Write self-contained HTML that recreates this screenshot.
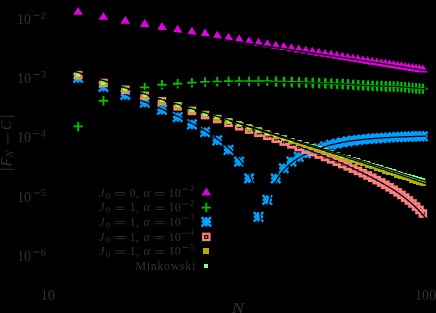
<!DOCTYPE html>
<html><head><meta charset="utf-8"><title>plot</title>
<style>
html,body{margin:0;padding:0;background:#000;}
body{width:436px;height:313px;overflow:hidden;}
svg{display:block;font-family:"Liberation Serif",serif;transform:translateZ(0);will-change:transform;}
svg text{fill:#363131;}
</style></head><body>
<svg width="436" height="313" viewBox="0 0 436 313">
<rect width="436" height="313" fill="#000"/>
<path d="M78.13 6.91L73.23 14.85L83.03 14.85Z" fill="#e000e0"/>
<path d="M103.44 11.91L98.54 19.85L108.34 19.85Z" fill="#e000e0"/>
<path d="M125.36 15.91L120.46 23.85L130.26 23.85Z" fill="#e000e0"/>
<path d="M144.69 19.01L139.79 26.95L149.59 26.95Z" fill="#e000e0"/>
<path d="M161.99 22.01L157.09 29.95L166.89 29.95Z" fill="#e000e0"/>
<path d="M177.64 24.81L172.74 32.75L182.54 32.75Z" fill="#e000e0"/>
<path d="M191.92 26.81L187.02 34.75L196.82 34.75Z" fill="#e000e0"/>
<path d="M205.06 28.61L200.16 36.55L209.96 36.55Z" fill="#e000e0"/>
<path d="M217.23 30.81L212.33 38.75L222.13 38.75Z" fill="#e000e0"/>
<path d="M228.55 32.81L223.65 40.75L233.45 40.75Z" fill="#e000e0"/>
<path d="M239.15 34.41L234.25 42.35L244.05 42.35Z" fill="#e000e0"/>
<path d="M249.10 36.41L244.20 44.35L254.00 44.35Z" fill="#e000e0"/>
<path d="M258.48 37.81L253.58 45.75L263.38 45.75Z" fill="#e000e0"/>
<path d="M267.36 39.31L262.46 47.25L272.26 47.25Z" fill="#e000e0"/>
<path d="M275.78 40.71L270.88 48.65L280.68 48.65Z" fill="#e000e0"/>
<path d="M283.79 42.04L278.89 49.98L288.69 49.98Z" fill="#e000e0"/>
<path d="M291.43 43.31L286.53 51.24L296.33 51.24Z" fill="#e000e0"/>
<path d="M298.72 44.52L293.82 52.45L303.62 52.45Z" fill="#e000e0"/>
<path d="M305.71 45.68L300.81 53.61L310.61 53.61Z" fill="#e000e0"/>
<path d="M312.41 46.79L307.51 54.73L317.31 54.73Z" fill="#e000e0"/>
<path d="M318.85 47.86L313.95 55.79L323.75 55.79Z" fill="#e000e0"/>
<path d="M325.04 48.88L320.14 56.82L329.94 56.82Z" fill="#e000e0"/>
<path d="M331.02 49.87L326.12 57.81L335.92 57.81Z" fill="#e000e0"/>
<path d="M336.78 50.83L331.88 58.77L341.68 58.77Z" fill="#e000e0"/>
<path d="M342.34 51.75L337.44 59.69L347.24 59.69Z" fill="#e000e0"/>
<path d="M347.72 52.65L342.82 60.58L352.62 60.58Z" fill="#e000e0"/>
<path d="M352.94 53.51L348.04 61.45L357.84 61.45Z" fill="#e000e0"/>
<path d="M357.99 54.35L353.09 62.29L362.89 62.29Z" fill="#e000e0"/>
<path d="M362.89 55.16L357.99 63.10L367.79 63.10Z" fill="#e000e0"/>
<path d="M367.65 55.95L362.75 63.89L372.55 63.89Z" fill="#e000e0"/>
<path d="M372.27 56.72L367.37 64.66L377.17 64.66Z" fill="#e000e0"/>
<path d="M376.77 57.47L371.87 65.40L381.67 65.40Z" fill="#e000e0"/>
<path d="M381.15 58.18L376.25 66.12L386.05 66.12Z" fill="#e000e0"/>
<path d="M385.41 58.84L380.51 66.77L390.31 66.77Z" fill="#e000e0"/>
<path d="M389.57 59.48L384.67 67.41L394.47 67.41Z" fill="#e000e0"/>
<path d="M393.62 60.10L388.72 68.04L398.52 68.04Z" fill="#e000e0"/>
<path d="M397.58 60.71L392.68 68.65L402.48 68.65Z" fill="#e000e0"/>
<path d="M401.44 61.31L396.54 69.24L406.34 69.24Z" fill="#e000e0"/>
<path d="M405.21 61.89L400.31 69.83L410.11 69.83Z" fill="#e000e0"/>
<path d="M408.90 62.46L404.00 70.40L413.80 70.40Z" fill="#e000e0"/>
<path d="M412.51 63.01L407.61 70.95L417.41 70.95Z" fill="#e000e0"/>
<path d="M416.04 63.56L411.14 71.50L420.94 71.50Z" fill="#e000e0"/>
<path d="M419.50 64.09L414.60 72.03L424.40 72.03Z" fill="#e000e0"/>
<path d="M422.88 64.61L417.98 72.55L427.78 72.55Z" fill="#e000e0"/>
<path d="M56.21 15.60L57.03 15.60L57.86 15.60L58.68 15.60L59.51 15.60L60.33 15.65L61.15 15.77L61.98 15.90L62.80 16.02L63.63 16.14L64.45 16.27L65.27 16.39L66.10 16.51L66.92 16.64L67.75 16.76L68.57 16.88L69.39 17.01L70.22 17.13L71.04 17.25L71.87 17.38L72.69 17.50L73.51 17.62L74.34 17.75L75.16 17.87L75.99 17.99L76.81 18.12L77.63 18.24L78.46 18.36L79.28 18.49L80.11 18.61L80.93 18.73L81.75 18.86L82.58 18.98L83.40 19.10L84.23 19.23L85.05 19.35L85.87 19.47L86.70 19.60L87.52 19.72L88.35 19.84L89.17 19.97L89.99 20.09L90.82 20.21L91.64 20.34L92.47 20.46L93.29 20.58L94.12 20.71L94.94 20.83L95.76 20.95L96.59 21.08L97.41 21.20L98.24 21.32L99.06 21.45L99.88 21.57L100.71 21.69L101.53 21.82L102.36 21.94L103.18 22.06L104.00 22.19L104.83 22.31L105.65 22.43L106.48 22.56L107.30 22.68L108.12 22.80L108.95 22.93L109.77 23.05L110.60 23.17L111.42 23.30L112.24 23.42L113.07 23.54L113.89 23.67L114.72 23.79L115.54 23.91L116.36 24.04L117.19 24.16L118.01 24.28L118.84 24.41L119.66 24.53L120.48 24.65L121.31 24.78L122.13 24.90L122.96 25.02L123.78 25.15L124.60 25.27L125.43 25.39L126.25 25.52L127.08 25.64L127.90 25.76L128.72 25.89L129.55 26.01L130.37 26.13L131.20 26.26L132.02 26.38L132.84 26.50L133.67 26.63L134.49 26.75L135.32 26.87L136.14 27.00L136.96 27.12L137.79 27.24L138.61 27.37L139.44 27.49L140.26 27.61L141.08 27.74L141.91 27.86L142.73 27.98L143.56 28.11L144.38 28.23L145.21 28.35L146.03 28.48L146.85 28.60L147.68 28.72L148.50 28.85L149.33 28.97L150.15 29.09L150.97 29.22L151.80 29.34L152.62 29.46L153.45 29.59L154.27 29.71L155.09 29.83L155.92 29.95L156.74 30.08L157.57 30.20L158.39 30.32L159.21 30.45L160.04 30.57L160.86 30.69L161.69 30.82L162.51 30.94L163.33 31.06L164.16 31.19L164.98 31.31L165.81 31.43L166.63 31.56L167.45 31.68L168.28 31.80L169.10 31.93L169.93 32.05L170.75 32.17L171.57 32.30L172.40 32.42L173.22 32.54L174.05 32.67L174.87 32.79L175.69 32.91L176.52 33.04L177.34 33.16L178.17 33.28L178.99 33.39L179.81 33.50L180.64 33.61L181.46 33.72L182.29 33.83L183.11 33.94L183.93 34.06L184.76 34.17L185.58 34.28L186.41 34.39L187.23 34.50L188.05 34.61L188.88 34.72L189.70 34.83L190.53 34.95L191.35 35.06L192.17 35.17L193.00 35.28L193.82 35.39L194.65 35.50L195.47 35.61L196.30 35.72L197.12 35.84L197.94 35.95L198.77 36.06L199.59 36.17L200.42 36.28L201.24 36.39L202.06 36.50L202.89 36.61L203.71 36.73L204.54 36.84L205.36 36.95L206.18 37.08L207.01 37.20L207.83 37.32L208.66 37.44L209.48 37.57L210.30 37.69L211.13 37.81L211.95 37.94L212.78 38.06L213.60 38.18L214.42 38.30L215.25 38.43L216.07 38.55L216.90 38.67L217.72 38.79L218.54 38.92L219.37 39.04L220.19 39.16L221.02 39.29L221.84 39.41L222.66 39.53L223.49 39.65L224.31 39.78L225.14 39.90L225.96 40.02L226.78 40.14L227.61 40.27L228.43 40.39L229.26 40.51L230.08 40.63L230.90 40.75L231.73 40.87L232.55 40.99L233.38 41.11L234.20 41.23L235.02 41.35L235.85 41.48L236.67 41.60L237.50 41.72L238.32 41.84L239.14 41.96L239.97 42.08L240.79 42.20L241.62 42.32L242.44 42.44L243.26 42.56L244.09 42.68L244.91 42.80L245.74 42.92L246.56 43.04L247.39 43.16L248.21 43.28L249.03 43.41L249.86 43.53L250.68 43.65L251.51 43.78L252.33 43.90L253.15 44.03L253.98 44.15L254.80 44.28L255.63 44.40L256.45 44.53L257.27 44.65L258.10 44.78L258.92 44.90L259.75 45.02L260.57 45.15L261.39 45.27L262.22 45.40L263.04 45.52L263.87 45.65L264.69 45.77L265.51 45.90L266.34 46.02L267.16 46.15L267.99 46.27L268.81 46.39L269.63 46.52L270.46 46.64L271.28 46.77L272.11 46.89L272.93 47.02L273.75 47.14L274.58 47.27L275.40 47.39L276.23 47.52L277.05 47.64L277.87 47.76L278.70 47.89L279.52 48.01L280.35 48.14L281.17 48.26L281.99 48.39L282.82 48.51L283.64 48.64L284.47 48.76L285.29 48.89L286.11 49.01L286.94 49.13L287.76 49.26L288.59 49.38L289.41 49.51L290.23 49.63L291.06 49.76L291.88 49.88L292.71 50.01L293.53 50.13L294.35 50.26L295.18 50.38L296.00 50.50L296.83 50.63L297.65 50.75L298.48 50.88L299.30 51.00L300.12 51.13L300.95 51.25L301.77 51.38L302.60 51.50L303.42 51.63L304.24 51.75L305.07 51.87L305.89 52.00L306.72 52.12L307.54 52.25L308.36 52.37L309.19 52.50L310.01 52.62L310.84 52.75L311.66 52.87L312.48 53.00L313.31 53.12L314.13 53.24L314.96 53.37L315.78 53.49L316.60 53.62L317.43 53.74L318.25 53.87L319.08 53.99L319.90 54.12L320.72 54.24L321.55 54.37L322.37 54.49L323.20 54.61L324.02 54.74L324.84 54.86L325.67 54.99L326.49 55.11L327.32 55.24L328.14 55.36L328.96 55.49L329.79 55.61L330.61 55.74L331.44 55.86L332.26 55.98L333.08 56.11L333.91 56.23L334.73 56.36L335.56 56.48L336.38 56.61L337.20 56.73L338.03 56.86L338.85 56.98L339.68 57.11L340.50 57.23L341.32 57.35L342.15 57.48L342.97 57.60L343.80 57.73L344.62 57.85L345.44 57.98L346.27 58.10L347.09 58.23L347.92 58.35L348.74 58.48L349.57 58.60L350.39 58.72L351.21 58.85L352.04 58.97L352.86 59.10L353.69 59.22L354.51 59.35L355.33 59.47L356.16 59.60L356.98 59.72L357.81 59.85L358.63 59.97L359.45 60.09L360.28 60.22L361.10 60.34L361.93 60.47L362.75 60.59L363.57 60.72L364.40 60.84L365.22 60.97L366.05 61.09L366.87 61.22L367.69 61.34L368.52 61.46L369.34 61.59L370.17 61.71L370.99 61.84L371.81 61.96L372.64 62.09L373.46 62.21L374.29 62.34L375.11 62.46L375.93 62.59L376.76 62.71L377.58 62.83L378.41 62.96L379.23 63.08L380.05 63.21L380.88 63.34L381.70 63.48L382.53 63.61L383.35 63.74L384.17 63.88L385.00 64.01L385.82 64.14L386.65 64.28L387.47 64.41L388.29 64.54L389.12 64.68L389.94 64.81L390.77 64.94L391.59 65.08L392.41 65.21L393.24 65.34L394.06 65.48L394.89 65.61L395.71 65.75L396.53 65.88L397.36 66.01L398.18 66.15L399.01 66.28L399.83 66.41L400.66 66.55L401.48 66.68L402.30 66.81L403.13 66.95L403.95 67.08L404.78 67.21L405.60 67.35L406.42 67.48L407.25 67.61L408.07 67.75L408.90 67.88L409.72 68.01L410.54 68.15L411.37 68.28L412.19 68.42L413.02 68.55L413.84 68.68L414.66 68.82L415.49 68.95L416.31 69.08L417.14 69.22L417.96 69.35L418.78 69.48L419.61 69.62L420.43 69.75L421.26 69.88L422.08 70.02L422.90 70.15L423.73 70.28L424.55 70.42L425.38 70.55L426.20 70.68" stroke="#000" stroke-width="1.3" fill="none" stroke-linejoin="round"/>
<path d="M73.38 126.40H82.88M78.13 121.65V131.15" stroke="#00c000" stroke-width="1.9" fill="none"/>
<path d="M98.69 100.80H108.19M103.44 96.05V105.55" stroke="#00c000" stroke-width="1.9" fill="none"/>
<path d="M120.61 91.50H130.11M125.36 86.75V96.25" stroke="#00c000" stroke-width="1.9" fill="none"/>
<path d="M139.94 87.40H149.44M144.69 82.65V92.15" stroke="#00c000" stroke-width="1.9" fill="none"/>
<path d="M157.24 84.80H166.74M161.99 80.05V89.55" stroke="#00c000" stroke-width="1.9" fill="none"/>
<path d="M172.89 83.70H182.39M177.64 78.95V88.45" stroke="#00c000" stroke-width="1.9" fill="none"/>
<path d="M187.17 82.80H196.67M191.92 78.05V87.55" stroke="#00c000" stroke-width="1.9" fill="none"/>
<path d="M200.31 82.00H209.81M205.06 77.25V86.75" stroke="#00c000" stroke-width="1.9" fill="none"/>
<path d="M212.48 81.70H221.98M217.23 76.95V86.45" stroke="#00c000" stroke-width="1.9" fill="none"/>
<path d="M223.80 81.30H233.30M228.55 76.55V86.05" stroke="#00c000" stroke-width="1.9" fill="none"/>
<path d="M234.40 81.25H243.90M239.15 76.50V86.00" stroke="#00c000" stroke-width="1.9" fill="none"/>
<path d="M244.35 81.20H253.85M249.10 76.45V85.95" stroke="#00c000" stroke-width="1.9" fill="none"/>
<path d="M253.73 81.25H263.23M258.48 76.50V86.00" stroke="#00c000" stroke-width="1.9" fill="none"/>
<path d="M262.61 81.30H272.11M267.36 76.55V86.05" stroke="#00c000" stroke-width="1.9" fill="none"/>
<path d="M276.48 76.40V87.10" stroke="#00c000" stroke-width="1.6" fill="none"/>
<path d="M271.03 81.60H280.53M275.78 76.85V86.35" stroke="#00c000" stroke-width="1.9" fill="none"/>
<path d="M284.49 76.58V87.28" stroke="#00c000" stroke-width="1.6" fill="none"/>
<path d="M279.04 81.78H288.54M283.79 77.03V86.53" stroke="#00c000" stroke-width="1.9" fill="none"/>
<path d="M292.13 76.75V87.45" stroke="#00c000" stroke-width="1.6" fill="none"/>
<path d="M286.68 81.95H296.18M291.43 77.20V86.70" stroke="#00c000" stroke-width="1.9" fill="none"/>
<path d="M299.42 77.01V87.71" stroke="#00c000" stroke-width="1.6" fill="none"/>
<path d="M293.97 82.21H303.47M298.72 77.46V86.96" stroke="#00c000" stroke-width="1.9" fill="none"/>
<path d="M306.41 77.25V87.95" stroke="#00c000" stroke-width="1.6" fill="none"/>
<path d="M300.96 82.45H310.46M305.71 77.70V87.20" stroke="#00c000" stroke-width="1.9" fill="none"/>
<path d="M313.11 77.51V88.21" stroke="#00c000" stroke-width="1.6" fill="none"/>
<path d="M307.66 82.71H317.16M312.41 77.96V87.46" stroke="#00c000" stroke-width="1.9" fill="none"/>
<path d="M319.55 77.75V88.45" stroke="#00c000" stroke-width="1.6" fill="none"/>
<path d="M314.10 82.95H323.60M318.85 78.20V87.70" stroke="#00c000" stroke-width="1.9" fill="none"/>
<path d="M325.74 78.06V88.76" stroke="#00c000" stroke-width="1.6" fill="none"/>
<path d="M320.29 83.26H329.79M325.04 78.51V88.01" stroke="#00c000" stroke-width="1.9" fill="none"/>
<path d="M331.72 78.35V89.05" stroke="#00c000" stroke-width="1.6" fill="none"/>
<path d="M326.27 83.55H335.77M331.02 78.80V88.30" stroke="#00c000" stroke-width="1.9" fill="none"/>
<path d="M337.48 78.58V89.28" stroke="#00c000" stroke-width="1.6" fill="none"/>
<path d="M332.03 83.78H341.53M336.78 79.03V88.53" stroke="#00c000" stroke-width="1.9" fill="none"/>
<path d="M343.04 78.80V89.50" stroke="#00c000" stroke-width="1.6" fill="none"/>
<path d="M337.59 84.00H347.09M342.34 79.25V88.75" stroke="#00c000" stroke-width="1.9" fill="none"/>
<path d="M348.42 79.14V89.84" stroke="#00c000" stroke-width="1.6" fill="none"/>
<path d="M342.97 84.34H352.47M347.72 79.59V89.09" stroke="#00c000" stroke-width="1.9" fill="none"/>
<path d="M353.64 79.48V90.18" stroke="#00c000" stroke-width="1.6" fill="none"/>
<path d="M348.19 84.68H357.69M352.94 79.93V89.43" stroke="#00c000" stroke-width="1.9" fill="none"/>
<path d="M358.69 79.80V90.50" stroke="#00c000" stroke-width="1.6" fill="none"/>
<path d="M353.24 85.00H362.74M357.99 80.25V89.75" stroke="#00c000" stroke-width="1.9" fill="none"/>
<path d="M363.59 80.07V90.77" stroke="#00c000" stroke-width="1.6" fill="none"/>
<path d="M358.14 85.27H367.64M362.89 80.52V90.02" stroke="#00c000" stroke-width="1.9" fill="none"/>
<path d="M368.35 80.34V91.04" stroke="#00c000" stroke-width="1.6" fill="none"/>
<path d="M362.90 85.54H372.40M367.65 80.79V90.29" stroke="#00c000" stroke-width="1.9" fill="none"/>
<path d="M372.97 80.60V91.30" stroke="#00c000" stroke-width="1.6" fill="none"/>
<path d="M367.52 85.80H377.02M372.27 81.05V90.55" stroke="#00c000" stroke-width="1.9" fill="none"/>
<path d="M377.47 80.72V91.42" stroke="#00c000" stroke-width="1.6" fill="none"/>
<path d="M372.02 85.92H381.52M376.77 81.17V90.67" stroke="#00c000" stroke-width="1.9" fill="none"/>
<path d="M381.85 80.85V91.55" stroke="#00c000" stroke-width="1.6" fill="none"/>
<path d="M376.40 86.05H385.90M381.15 81.30V90.80" stroke="#00c000" stroke-width="1.9" fill="none"/>
<path d="M386.11 80.96V91.66" stroke="#00c000" stroke-width="1.6" fill="none"/>
<path d="M380.66 86.16H390.16M385.41 81.41V90.91" stroke="#00c000" stroke-width="1.9" fill="none"/>
<path d="M390.27 81.08V91.78" stroke="#00c000" stroke-width="1.6" fill="none"/>
<path d="M384.82 86.28H394.32M389.57 81.53V91.03" stroke="#00c000" stroke-width="1.9" fill="none"/>
<path d="M393.62 81.19V91.89" stroke="#00c000" stroke-width="1.6" fill="none"/>
<path d="M388.87 86.39H398.37M393.62 81.64V91.14" stroke="#00c000" stroke-width="1.9" fill="none"/>
<path d="M397.58 81.30V92.00" stroke="#00c000" stroke-width="1.6" fill="none"/>
<path d="M392.83 86.50H402.33M397.58 81.75V91.25" stroke="#00c000" stroke-width="1.9" fill="none"/>
<path d="M401.44 81.64V92.34" stroke="#00c000" stroke-width="1.6" fill="none"/>
<path d="M396.69 86.84H406.19M401.44 82.09V91.59" stroke="#00c000" stroke-width="1.9" fill="none"/>
<path d="M405.21 81.98V92.68" stroke="#00c000" stroke-width="1.6" fill="none"/>
<path d="M400.46 87.18H409.96M405.21 82.43V91.93" stroke="#00c000" stroke-width="1.9" fill="none"/>
<path d="M408.90 82.31V93.01" stroke="#00c000" stroke-width="1.6" fill="none"/>
<path d="M404.15 87.51H413.65M408.90 82.76V92.26" stroke="#00c000" stroke-width="1.9" fill="none"/>
<path d="M412.51 82.63V93.33" stroke="#00c000" stroke-width="1.6" fill="none"/>
<path d="M407.76 87.83H417.26M412.51 83.08V92.58" stroke="#00c000" stroke-width="1.9" fill="none"/>
<path d="M416.04 82.94V93.64" stroke="#00c000" stroke-width="1.6" fill="none"/>
<path d="M411.29 88.14H420.79M416.04 83.39V92.89" stroke="#00c000" stroke-width="1.9" fill="none"/>
<path d="M419.50 83.25V93.95" stroke="#00c000" stroke-width="1.6" fill="none"/>
<path d="M414.75 88.45H424.25M419.50 83.70V93.20" stroke="#00c000" stroke-width="1.9" fill="none"/>
<path d="M422.88 83.55V94.25" stroke="#00c000" stroke-width="1.6" fill="none"/>
<path d="M418.13 88.75H427.63M422.88 84.00V93.50" stroke="#00c000" stroke-width="1.9" fill="none"/>
<path d="M56.21 135.40L57.03 135.40L57.86 135.40L58.68 135.40L59.51 135.40L60.33 135.40L61.15 135.40L61.98 135.40L62.80 135.40L63.63 135.40L64.45 135.40L65.27 135.40L66.10 135.40L66.92 135.40L67.75 135.40L68.57 135.40L69.39 135.40L70.22 135.40L71.04 135.40L71.87 135.40L72.69 135.40L73.51 135.40L74.34 135.40L75.16 135.40L75.99 135.40L76.81 135.40L77.63 135.40L78.46 135.05L79.28 134.19L80.11 133.32L80.93 132.45L81.75 131.58L82.58 130.71L83.40 129.84L84.23 128.97L85.05 128.11L85.87 127.24L86.70 126.37L87.52 125.50L88.35 124.63L89.17 123.76L89.99 122.90L90.82 122.03L91.64 121.16L92.47 120.29L93.29 119.42L94.12 118.55L94.94 117.68L95.76 116.82L96.59 115.95L97.41 115.08L98.24 114.21L99.06 113.34L99.88 112.47L100.71 111.60L101.53 110.74L102.36 109.87L103.18 109.00L104.00 108.46L104.83 108.08L105.65 107.69L106.48 107.31L107.30 106.93L108.12 106.54L108.95 106.16L109.77 105.77L110.60 105.39L111.42 105.00L112.24 104.62L113.07 104.23L113.89 103.85L114.72 103.47L115.54 103.08L116.36 102.70L117.19 102.31L118.01 101.93L118.84 101.54L119.66 101.16L120.48 100.77L121.31 100.39L122.13 100.00L122.96 99.62L123.78 99.24L124.60 98.85L125.43 98.47L126.25 98.13L127.08 97.78L127.90 97.43L128.72 97.09L129.55 96.74L130.37 96.40L131.20 96.05L132.02 95.71L132.84 95.36L133.67 95.02L134.49 94.67L135.32 94.33L136.14 93.98L136.96 93.64L137.79 93.29L138.61 92.95L139.44 92.60L140.26 92.26L141.08 91.91L141.91 91.57L142.73 91.22L143.56 90.88L144.38 90.53L145.21 90.30L146.03 90.14L146.85 89.98L147.68 89.81L148.50 89.65L149.33 89.49L150.15 89.33L150.97 89.17L151.80 89.00L152.62 88.84L153.45 88.68L154.27 88.52L155.09 88.36L155.92 88.19L156.74 88.03L157.57 87.87L158.39 87.71L159.21 87.55L160.04 87.38L160.86 87.22L161.69 87.06L162.51 86.95L163.33 86.88L164.16 86.80L164.98 86.73L165.81 86.65L166.63 86.58L167.45 86.50L168.28 86.43L169.10 86.35L169.93 86.28L170.75 86.20L171.57 86.13L172.40 86.05L173.22 85.98L174.05 85.90L174.87 85.83L175.69 85.75L176.52 85.67L177.34 85.60L178.17 85.53L178.99 85.46L179.81 85.39L180.64 85.32L181.46 85.25L182.29 85.18L183.11 85.11L183.93 85.04L184.76 84.98L185.58 84.91L186.41 84.84L187.23 84.77L188.05 84.70L188.88 84.63L189.70 84.56L190.53 84.49L191.35 84.42L192.17 84.35L193.00 84.29L193.82 84.22L194.65 84.15L195.47 84.08L196.30 84.02L197.12 83.95L197.94 83.88L198.77 83.81L199.59 83.75L200.42 83.68L201.24 83.61L202.06 83.55L202.89 83.48L203.71 83.41L204.54 83.34L205.36 83.29L206.18 83.27L207.01 83.25L207.83 83.23L208.66 83.20L209.48 83.18L210.30 83.16L211.13 83.14L211.95 83.11L212.78 83.09L213.60 83.07L214.42 83.05L215.25 83.03L216.07 83.00L216.90 82.98L217.72 82.95L218.54 82.92L219.37 82.89L220.19 82.86L221.02 82.83L221.84 82.80L222.66 82.77L223.49 82.74L224.31 82.71L225.14 82.68L225.96 82.64L226.78 82.61L227.61 82.58L228.43 82.55L229.26 82.54L230.08 82.54L230.90 82.53L231.73 82.52L232.55 82.52L233.38 82.51L234.20 82.51L235.02 82.50L235.85 82.49L236.67 82.49L237.50 82.48L238.32 82.48L239.14 82.47L239.97 82.47L240.79 82.46L241.62 82.45L242.44 82.45L243.26 82.44L244.09 82.44L244.91 82.43L245.74 82.42L246.56 82.42L247.39 82.41L248.21 82.41L249.03 82.40L249.86 82.39L250.68 82.39L251.51 82.38L252.33 82.37L253.15 82.36L253.98 82.36L254.80 82.35L255.63 82.34L256.45 82.34L257.27 82.33L258.10 82.32L258.92 82.31L259.75 82.31L260.57 82.30L261.39 82.29L262.22 82.29L263.04 82.28L263.87 82.27L264.69 82.26L265.51 82.26L266.34 82.25L267.16 82.24L267.99 82.25L268.81 82.27L269.63 82.29L270.46 82.31L271.28 82.33L272.11 82.34L272.93 82.36L273.75 82.38L274.58 82.40L275.40 82.41L276.23 82.43L277.05 82.43L277.87 82.44L278.70 82.45L279.52 82.45L280.35 82.46L281.17 82.47L281.99 82.47L282.82 82.48L283.64 82.49L284.47 82.49L285.29 82.50L286.11 82.51L286.94 82.51L287.76 82.52L288.59 82.53L289.41 82.53L290.23 82.54L291.06 82.55L291.88 82.56L292.71 82.57L293.53 82.58L294.35 82.60L295.18 82.61L296.00 82.62L296.83 82.64L297.65 82.65L298.48 82.66L299.30 82.68L300.12 82.69L300.95 82.70L301.77 82.71L302.60 82.73L303.42 82.74L304.24 82.75L305.07 82.77L305.89 82.78L306.72 82.80L307.54 82.81L308.36 82.83L309.19 82.84L310.01 82.86L310.84 82.88L311.66 82.89L312.48 82.91L313.31 82.93L314.13 82.95L314.96 82.97L315.78 83.00L316.60 83.02L317.43 83.04L318.25 83.06L319.08 83.09L319.90 83.12L320.72 83.15L321.55 83.18L322.37 83.22L323.20 83.25L324.02 83.28L324.84 83.31L325.67 83.34L326.49 83.38L327.32 83.41L328.14 83.44L328.96 83.47L329.79 83.50L330.61 83.53L331.44 83.57L332.26 83.60L333.08 83.63L333.91 83.66L334.73 83.70L335.56 83.73L336.38 83.76L337.20 83.80L338.03 83.83L338.85 83.86L339.68 83.89L340.50 83.93L341.32 83.96L342.15 83.99L342.97 84.04L343.80 84.09L344.62 84.15L345.44 84.20L346.27 84.25L347.09 84.30L347.92 84.36L348.74 84.41L349.57 84.46L350.39 84.51L351.21 84.57L352.04 84.62L352.86 84.67L353.69 84.73L354.51 84.78L355.33 84.83L356.16 84.88L356.98 84.94L357.81 84.99L358.63 85.04L359.45 85.08L360.28 85.13L361.10 85.17L361.93 85.22L362.75 85.27L363.57 85.31L364.40 85.36L365.22 85.41L366.05 85.45L366.87 85.50L367.69 85.54L368.52 85.59L369.34 85.64L370.17 85.68L370.99 85.73L371.81 85.77L372.64 85.81L373.46 85.83L374.29 85.86L375.11 85.88L375.93 85.90L376.76 85.92L377.58 85.95L378.41 85.97L379.23 85.99L380.05 86.02L380.88 86.04L381.70 86.06L382.53 86.08L383.35 86.11L384.17 86.13L385.00 86.15L385.82 86.17L386.65 86.20L387.47 86.22L388.29 86.24L389.12 86.27L389.94 86.29L390.77 86.31L391.59 86.33L392.41 86.36L393.24 86.38L394.06 86.40L394.89 86.43L395.71 86.45L396.53 86.47L397.36 86.49L398.18 86.55L399.01 86.63L399.83 86.70L400.66 86.77L401.48 86.85L402.30 86.92L403.13 86.99L403.95 87.07L404.78 87.14L405.60 87.21L406.42 87.29L407.25 87.36L408.07 87.43L408.90 87.51L409.72 87.58L410.54 87.65L411.37 87.73L412.19 87.80L413.02 87.87L413.84 87.95L414.66 88.02L415.49 88.09L416.31 88.17L417.14 88.24L417.96 88.31L418.78 88.39L419.61 88.46L420.43 88.53L421.26 88.61L422.08 88.68L422.90 88.75L423.73 88.75L424.55 88.75L425.38 88.75L426.20 88.75" stroke="#000" stroke-width="1.3" fill="none" stroke-linejoin="round"/>
<path d="M73.43 77.95H82.83M78.13 73.25V82.65M73.43 73.25L82.83 82.65M73.43 82.65L82.83 73.25" stroke="#00a0ff" stroke-width="2.5" fill="none"/>
<path d="M98.74 86.86H108.14M103.44 82.16V91.56M98.74 82.16L108.14 91.56M98.74 91.56L108.14 82.16" stroke="#00a0ff" stroke-width="2.5" fill="none"/>
<path d="M120.66 94.98H130.06M125.36 90.28V99.68M120.66 90.28L130.06 99.68M120.66 99.68L130.06 90.28" stroke="#00a0ff" stroke-width="2.5" fill="none"/>
<path d="M139.99 102.59H149.39M144.69 97.89V107.29M139.99 97.89L149.39 107.29M139.99 107.29L149.39 97.89" stroke="#00a0ff" stroke-width="2.5" fill="none"/>
<path d="M157.29 109.91H166.69M161.99 105.21V114.61M157.29 105.21L166.69 114.61M157.29 114.61L166.69 105.21" stroke="#00a0ff" stroke-width="2.5" fill="none"/>
<path d="M172.94 117.13H182.34M177.64 112.43V121.83M172.94 112.43L182.34 121.83M172.94 121.83L182.34 112.43" stroke="#00a0ff" stroke-width="2.5" fill="none"/>
<path d="M187.22 124.45H196.62M191.92 119.75V129.15M187.22 119.75L196.62 129.15M187.22 129.15L196.62 119.75" stroke="#00a0ff" stroke-width="2.5" fill="none"/>
<path d="M200.36 132.09H209.76M205.06 127.39V136.79M200.36 127.39L209.76 136.79M200.36 136.79L209.76 127.39" stroke="#00a0ff" stroke-width="2.5" fill="none"/>
<path d="M212.53 140.39H221.93M217.23 135.69V145.09M212.53 135.69L221.93 145.09M212.53 145.09L221.93 135.69" stroke="#00a0ff" stroke-width="2.5" fill="none"/>
<path d="M223.85 149.87H233.25M228.55 145.17V154.57M223.85 145.17L233.25 154.57M223.85 154.57L233.25 145.17" stroke="#00a0ff" stroke-width="2.5" fill="none"/>
<path d="M234.45 161.58H243.85M239.15 156.88V166.28M234.45 156.88L243.85 166.28M234.45 166.28L243.85 156.88" stroke="#00a0ff" stroke-width="2.5" fill="none"/>
<path d="M244.40 178.40H253.80M249.10 173.70V183.10M244.40 173.70L253.80 183.10M244.40 183.10L253.80 173.70" stroke="#00a0ff" stroke-width="2.5" fill="none"/>
<path d="M253.78 216.82H263.18M258.48 212.12V221.52M253.78 212.12L263.18 221.52M253.78 221.52L263.18 212.12" stroke="#00a0ff" stroke-width="2.5" fill="none"/>
<path d="M262.66 199.87H272.06M267.36 195.17V204.57M262.66 195.17L272.06 204.57M262.66 204.57L272.06 195.17" stroke="#00a0ff" stroke-width="2.5" fill="none"/>
<path d="M271.08 178.47H280.48M275.78 173.77V183.17M271.08 173.77L280.48 183.17M271.08 183.17L280.48 173.77" stroke="#00a0ff" stroke-width="2.5" fill="none"/>
<path d="M279.09 168.26H288.49M283.79 163.56V172.96M279.09 163.56L288.49 172.96M279.09 172.96L288.49 163.56" stroke="#00a0ff" stroke-width="2.5" fill="none"/>
<path d="M286.73 161.65H296.13M291.43 156.95V166.35M286.73 156.95L296.13 166.35M286.73 166.35L296.13 156.95" stroke="#00a0ff" stroke-width="2.5" fill="none"/>
<path d="M294.02 156.93H303.42M298.72 152.23V161.63M294.02 152.23L303.42 161.63M294.02 161.63L303.42 152.23" stroke="#00a0ff" stroke-width="2.5" fill="none"/>
<path d="M301.01 153.34H310.41M305.71 148.64V158.04M301.01 148.64L310.41 158.04M301.01 158.04L310.41 148.64" stroke="#00a0ff" stroke-width="2.5" fill="none"/>
<path d="M307.71 150.54H317.11M312.41 145.84V155.24M307.71 145.84L317.11 155.24M307.71 155.24L317.11 145.84" stroke="#00a0ff" stroke-width="2.5" fill="none"/>
<path d="M314.15 148.26H323.55M318.85 143.56V152.96M314.15 143.56L323.55 152.96M314.15 152.96L323.55 143.56" stroke="#00a0ff" stroke-width="2.5" fill="none"/>
<path d="M320.34 146.36H329.74M325.04 141.66V151.06M320.34 141.66L329.74 151.06M320.34 151.06L329.74 141.66" stroke="#00a0ff" stroke-width="2.5" fill="none"/>
<path d="M326.32 144.75H335.72M331.02 140.05V149.45M326.32 140.05L335.72 149.45M326.32 149.45L335.72 140.05" stroke="#00a0ff" stroke-width="2.5" fill="none"/>
<path d="M332.08 143.47H341.48M336.78 138.77V148.17M332.08 138.77L341.48 148.17M332.08 148.17L341.48 138.77" stroke="#00a0ff" stroke-width="2.5" fill="none"/>
<path d="M337.64 142.35H347.04M342.34 137.65V147.05M337.64 137.65L347.04 147.05M337.64 147.05L347.04 137.65" stroke="#00a0ff" stroke-width="2.5" fill="none"/>
<path d="M343.02 141.39H352.42M347.72 136.69V146.09M343.02 136.69L352.42 146.09M343.02 146.09L352.42 136.69" stroke="#00a0ff" stroke-width="2.5" fill="none"/>
<path d="M348.24 140.67H357.64M352.94 135.97V145.37M348.24 135.97L357.64 145.37M348.24 145.37L357.64 135.97" stroke="#00a0ff" stroke-width="2.5" fill="none"/>
<path d="M353.29 140.04H362.69M357.99 135.34V144.74M353.29 135.34L362.69 144.74M353.29 144.74L362.69 135.34" stroke="#00a0ff" stroke-width="2.5" fill="none"/>
<path d="M358.19 139.49H367.59M362.89 134.79V144.19M358.19 134.79L367.59 144.19M358.19 144.19L367.59 134.79" stroke="#00a0ff" stroke-width="2.5" fill="none"/>
<path d="M362.95 139.04H372.35M367.65 134.34V143.74M362.95 134.34L372.35 143.74M362.95 143.74L372.35 134.34" stroke="#00a0ff" stroke-width="2.5" fill="none"/>
<path d="M367.57 138.64H376.97M372.27 133.94V143.34M367.57 133.94L376.97 143.34M367.57 143.34L376.97 133.94" stroke="#00a0ff" stroke-width="2.5" fill="none"/>
<path d="M372.07 138.30H381.47M376.77 133.60V143.00M372.07 133.60L381.47 143.00M372.07 143.00L381.47 133.60" stroke="#00a0ff" stroke-width="2.5" fill="none"/>
<path d="M376.45 138.00H385.85M381.15 133.30V142.70M376.45 133.30L385.85 142.70M376.45 142.70L385.85 133.30" stroke="#00a0ff" stroke-width="2.5" fill="none"/>
<path d="M380.71 137.73H390.11M385.41 133.03V142.43M380.71 133.03L390.11 142.43M380.71 142.43L390.11 133.03" stroke="#00a0ff" stroke-width="2.5" fill="none"/>
<path d="M384.87 137.49H394.27M389.57 132.79V142.19M384.87 132.79L394.27 142.19M384.87 142.19L394.27 132.79" stroke="#00a0ff" stroke-width="2.5" fill="none"/>
<path d="M388.92 137.28H398.32M393.62 132.58V141.98M388.92 132.58L398.32 141.98M388.92 141.98L398.32 132.58" stroke="#00a0ff" stroke-width="2.5" fill="none"/>
<path d="M392.88 137.10H402.28M397.58 132.40V141.80M392.88 132.40L402.28 141.80M392.88 141.80L402.28 132.40" stroke="#00a0ff" stroke-width="2.5" fill="none"/>
<path d="M396.74 136.93H406.14M401.44 132.23V141.63M396.74 132.23L406.14 141.63M396.74 141.63L406.14 132.23" stroke="#00a0ff" stroke-width="2.5" fill="none"/>
<path d="M400.51 136.78H409.91M405.21 132.08V141.48M400.51 132.08L409.91 141.48M400.51 141.48L409.91 132.08" stroke="#00a0ff" stroke-width="2.5" fill="none"/>
<path d="M404.20 136.65H413.60M408.90 131.95V141.35M404.20 131.95L413.60 141.35M404.20 141.35L413.60 131.95" stroke="#00a0ff" stroke-width="2.5" fill="none"/>
<path d="M407.81 136.53H417.21M412.51 131.83V141.23M407.81 131.83L417.21 141.23M407.81 141.23L417.21 131.83" stroke="#00a0ff" stroke-width="2.5" fill="none"/>
<path d="M411.34 136.43H420.74M416.04 131.73V141.13M411.34 131.73L420.74 141.13M411.34 141.13L420.74 131.73" stroke="#00a0ff" stroke-width="2.5" fill="none"/>
<path d="M414.80 136.34H424.20M419.50 131.64V141.04M414.80 131.64L424.20 141.04M414.80 141.04L424.20 131.64" stroke="#00a0ff" stroke-width="2.5" fill="none"/>
<path d="M418.18 136.26H427.58M422.88 131.56V140.96M418.18 131.56L427.58 140.96M418.18 140.96L427.58 131.56" stroke="#00a0ff" stroke-width="2.5" fill="none"/>
<path d="M58.01 70.51L58.42 70.64L58.83 70.78L59.24 70.92L59.65 71.06L60.07 71.19L60.48 71.33L60.89 71.47L61.30 71.61L61.71 71.75L62.12 71.89L62.53 72.02L62.94 72.16L63.35 72.30L63.77 72.44L64.18 72.58L64.59 72.72L65.00 72.86L65.41 72.99L65.82 73.13L66.23 73.27L66.64 73.41L67.06 73.55L67.47 73.69L67.88 73.83L68.29 73.97L68.70 74.11L69.11 74.25L69.52 74.39L69.93 74.53L70.34 74.67L70.76 74.81L71.17 74.95L71.58 75.09L71.99 75.23L72.40 75.37L72.81 75.51L73.22 75.65L73.63 75.79L74.05 75.93L74.46 76.07L74.87 76.21L75.28 76.35L75.69 76.49L76.10 76.63L76.51 76.77L76.92 76.91L77.33 77.05L77.75 77.20L78.16 77.34L78.57 77.48L78.98 77.62L79.39 77.76L79.80 77.90L80.21 78.04L80.62 78.19L81.04 78.33L81.45 78.47L81.86 78.61L82.27 78.75L82.68 78.90L83.09 79.04L83.50 79.18L83.91 79.32L84.32 79.47L84.74 79.61L85.15 79.75L85.56 79.90L85.97 80.04L86.38 80.18L86.79 80.32L87.20 80.47L87.61 80.61L88.03 80.76L88.44 80.90L88.85 81.04L89.26 81.19L89.67 81.33L90.08 81.47L90.49 81.62L90.90 81.76L91.31 81.91L91.73 82.05L92.14 82.20L92.55 82.34L92.96 82.49L93.37 82.63L93.78 82.78L94.19 82.92L94.60 83.07L95.01 83.21L95.43 83.36L95.84 83.50L96.25 83.65L96.66 83.79L97.07 83.94L97.48 84.08L97.89 84.23L98.30 84.38L98.72 84.52L99.13 84.67L99.54 84.82L99.95 84.96L100.36 85.11L100.77 85.26L101.18 85.40L101.59 85.55L102.00 85.70L102.42 85.85L102.83 85.99L103.24 86.14L103.65 86.29L104.06 86.44L104.47 86.58L104.88 86.73L105.29 86.88L105.71 87.03L106.12 87.18L106.53 87.33L106.94 87.48L107.35 87.63L107.76 87.77L108.17 87.92L108.58 88.07L108.99 88.22L109.41 88.37L109.82 88.52L110.23 88.67L110.64 88.82L111.05 88.97L111.46 89.12L111.87 89.27L112.28 89.42L112.70 89.57L113.11 89.73L113.52 89.88L113.93 90.03L114.34 90.18L114.75 90.33L115.16 90.48L115.57 90.63L115.98 90.79L116.40 90.94L116.81 91.09L117.22 91.24L117.63 91.40L118.04 91.55L118.45 91.70L118.86 91.86L119.27 92.01L119.69 92.16L120.10 92.32L120.51 92.47L120.92 92.62L121.33 92.78L121.74 92.93L122.15 93.09L122.56 93.24L122.97 93.40L123.39 93.55L123.80 93.71L124.21 93.86L124.62 94.02L125.03 94.17L125.44 94.33L125.85 94.48L126.26 94.64L126.68 94.80L127.09 94.95L127.50 95.11L127.91 95.27L128.32 95.43L128.73 95.58L129.14 95.74L129.55 95.90L129.96 96.06L130.38 96.21L130.79 96.37L131.20 96.53L131.61 96.69L132.02 96.85L132.43 97.01L132.84 97.17L133.25 97.33L133.66 97.49L134.08 97.65L134.49 97.81L134.90 97.97L135.31 98.13L135.72 98.29L136.13 98.45L136.54 98.61L136.95 98.77L137.37 98.94L137.78 99.10L138.19 99.26L138.60 99.42L139.01 99.59L139.42 99.75L139.83 99.91L140.24 100.08L140.65 100.24L141.07 100.40L141.48 100.57L141.89 100.73L142.30 100.90L142.71 101.06L143.12 101.23L143.53 101.39L143.94 101.56L144.36 101.72L144.77 101.89L145.18 102.06L145.59 102.22L146.00 102.39L146.41 102.56L146.82 102.73L147.23 102.89L147.64 103.06L148.06 103.23L148.47 103.40L148.88 103.57L149.29 103.74L149.70 103.91L150.11 104.08L150.52 104.25L150.93 104.42L151.35 104.59L151.76 104.76L152.17 104.93L152.58 105.10L152.99 105.27L153.40 105.45L153.81 105.62L154.22 105.79L154.63 105.96L155.05 106.14L155.46 106.31L155.87 106.49L156.28 106.66L156.69 106.84L157.10 107.01L157.51 107.19L157.92 107.36L158.34 107.54L158.75 107.71L159.16 107.89L159.57 108.07L159.98 108.25L160.39 108.42L160.80 108.60L161.21 108.78L161.62 108.96L162.04 109.14L162.45 109.32L162.86 109.50L163.27 109.68L163.68 109.86L164.09 110.04L164.50 110.22L164.91 110.41L165.33 110.59L165.74 110.77L166.15 110.96L166.56 111.14L166.97 111.32L167.38 111.51L167.79 111.69L168.20 111.88L168.61 112.06L169.03 112.25L169.44 112.44L169.85 112.62L170.26 112.81L170.67 113.00L171.08 113.19L171.49 113.38L171.90 113.57L172.31 113.76L172.73 113.95L173.14 114.14L173.55 114.33L173.96 114.52L174.37 114.72L174.78 114.91L175.19 115.10L175.60 115.30L176.02 115.49L176.43 115.69L176.84 115.88L177.25 116.08L177.66 116.27L178.07 116.47L178.48 116.67L178.89 116.87L179.30 117.07L179.72 117.26L180.13 117.46L180.54 117.67L180.95 117.87L181.36 118.07L181.77 118.27L182.18 118.47L182.59 118.68L183.01 118.88L183.42 119.09L183.83 119.29L184.24 119.50L184.65 119.70L185.06 119.91L185.47 120.12L185.88 120.33L186.29 120.54L186.71 120.75L187.12 120.96L187.53 121.17L187.94 121.38L188.35 121.60L188.76 121.81L189.17 122.02L189.58 122.24L190.00 122.45L190.41 122.67L190.82 122.89L191.23 123.11L191.64 123.33L192.05 123.55L192.46 123.77L192.87 123.99L193.28 124.21L193.70 124.43L194.11 124.66L194.52 124.88L194.93 125.11L195.34 125.33L195.75 125.56L196.16 125.79L196.57 126.02L196.99 126.25L197.40 126.48L197.81 126.71L198.22 126.94L198.63 127.18L199.04 127.41L199.45 127.65L199.86 127.89L200.27 128.12L200.69 128.36L201.10 128.60L201.51 128.85L201.92 129.09L202.33 129.33L202.74 129.58L203.15 129.82L203.56 130.07L203.98 130.32L204.39 130.57L204.80 130.82L205.21 131.07L205.62 131.32L206.03 131.57L206.44 131.83L206.85 132.09L207.26 132.35L207.68 132.60L208.09 132.87L208.50 133.13L208.91 133.39L209.32 133.66L209.73 133.92L210.14 134.19L210.55 134.46L210.97 134.73L211.38 135.00L211.79 135.28L212.20 135.55L212.61 135.83L213.02 136.11L213.43 136.39L213.84 136.67L214.25 136.96L214.67 137.24L215.08 137.53L215.49 137.82L215.90 138.11L216.31 138.40L216.72 138.70L217.13 138.99L217.54 139.29L217.95 139.59L218.37 139.90L218.78 140.20L219.19 140.51L219.60 140.82L220.01 141.13L220.42 141.45L220.83 141.76L221.24 142.08L221.66 142.40L222.07 142.73L222.48 143.05L222.89 143.38L223.30 143.71L223.71 144.05L224.12 144.38L224.53 144.72L224.94 145.07L225.36 145.41L225.77 145.76L226.18 146.11L226.59 146.46L227.00 146.82L227.41 147.18L227.82 147.55L228.23 147.92L228.65 148.29L229.06 148.66L229.47 149.04L229.88 149.42L230.29 149.81L230.70 150.20L231.11 150.59L231.52 150.99L231.93 151.39L232.35 151.80L232.76 152.21L233.17 152.63L233.58 153.05L233.99 153.48L234.40 153.91L234.81 154.34L235.22 154.78L235.64 155.23L236.05 155.68L236.46 156.14L236.87 156.61L237.28 157.08L237.69 157.55L238.10 158.04L238.51 158.53L238.92 159.03L239.34 159.53L239.75 160.04L240.16 160.56L240.57 161.09L240.98 161.63L241.39 162.17L241.80 162.73L242.21 163.29L242.63 163.87L243.04 164.45L243.45 165.05L243.86 165.65L244.27 166.27L244.68 166.90L245.09 167.54L245.50 168.20L245.91 168.87L246.33 169.55L246.74 170.25L247.15 170.97L247.56 171.70L247.97 172.45L248.38 173.21L248.79 174.00L249.20 174.81L249.62 175.64L250.03 176.50L250.44 177.38L250.85 178.28L251.26 179.22L251.67 180.18L252.08 181.18L252.49 182.21L252.90 183.28L253.32 184.39L253.73 185.55L254.14 186.76L254.55 188.01L254.96 189.33L255.37 190.71L255.78 192.16L256.19 193.69L256.60 195.30L257.02 197.02L257.43 198.85L257.84 200.82L258.25 202.93L258.66 205.22L259.07 207.72L259.48 210.48L259.89 213.56L260.31 217.03L260.72 221.03L261.13 225.74L261.54 231.47L261.95 238.83L262.36 249.11L262.77 266.39L263.18 330.00" stroke="#000" stroke-width="1.3" fill="none" stroke-linejoin="round"/>
<path d="M263.22 330.00L263.55 271.86L263.88 254.83L264.21 244.71L264.54 237.50L264.87 231.89L265.20 227.30L265.54 223.42L265.87 220.07L266.20 217.11L266.53 214.47L266.86 212.08L267.19 209.91L267.52 207.91L267.85 206.06L268.18 204.35L268.51 202.74L268.84 201.24L269.17 199.83L269.50 198.49L269.83 197.23L270.16 196.02L270.49 194.88L270.82 193.79L271.15 192.75L271.48 191.75L271.81 190.80L272.14 189.88L272.47 188.99L272.80 188.14L273.13 187.32L273.46 186.53L273.79 185.77L274.12 185.03L274.45 184.31L274.78 183.61L275.11 182.94L275.44 182.29L275.77 181.65L276.10 181.03L276.43 180.43L276.76 179.85L277.09 179.28L277.42 178.72L277.75 178.18L278.08 177.65L278.41 177.14L278.74 176.64L279.07 176.14L279.40 175.66L279.73 175.19L280.06 174.73L280.39 174.28L280.73 173.84L281.06 173.41L281.39 172.99L281.72 172.58L282.05 172.17L282.38 171.77L282.71 171.38L283.04 171.00L283.37 170.62L283.70 170.25L284.03 169.89L284.36 169.53L284.69 169.18L285.02 168.84L285.35 168.50L285.68 168.17L286.01 167.83L286.34 167.50L286.67 167.18L287.00 166.86L287.33 166.55L287.66 166.24L287.99 165.93L288.32 165.63L288.65 165.34L288.98 165.05L289.31 164.76L289.64 164.48L289.97 164.20L290.30 163.92L290.63 163.65L290.96 163.39L291.29 163.12L291.62 162.86L291.95 162.60L292.28 162.35L292.61 162.10L292.94 161.85L293.27 161.61L293.60 161.37L293.93 161.13L294.26 160.90L294.59 160.66L294.92 160.43L295.25 160.21L295.58 159.98L295.91 159.76L296.25 159.54L296.58 159.33L296.91 159.12L297.24 158.90L297.57 158.70L297.90 158.49L298.23 158.28L298.56 158.08L298.89 157.88L299.22 157.69L299.55 157.49L299.88 157.30L300.21 157.11L300.54 156.92L300.87 156.73L301.20 156.54L301.53 156.36L301.86 156.18L302.17 156.00L302.49 155.82L302.81 155.65L303.12 155.47L303.44 155.30L303.76 155.13L304.08 154.96L304.39 154.79L304.71 154.63L305.03 154.46L305.34 154.30L305.66 154.14L305.98 153.98L306.29 153.82L306.61 153.66L306.93 153.51L307.25 153.35L307.56 153.20L307.88 153.05L308.20 152.91L308.51 152.76L308.83 152.62L309.15 152.47L309.46 152.33L309.78 152.19L310.10 152.05L310.42 151.91L310.73 151.77L311.05 151.64L311.37 151.50L311.68 151.37L312.00 151.23L312.32 151.10L312.63 150.97L312.95 150.84L313.27 150.72L313.59 150.59L313.90 150.46L314.22 150.34L314.54 150.21L314.85 150.09L315.17 149.97L315.49 149.85L315.80 149.73L316.12 149.61L316.44 149.49L316.76 149.37L317.07 149.25L317.39 149.14L317.71 149.02L318.02 148.91L318.34 148.80L318.66 148.69L318.97 148.58L319.29 148.47L319.61 148.36L319.93 148.25L320.24 148.14L320.56 148.03L320.88 147.93L321.19 147.82L321.51 147.72L321.83 147.61L322.14 147.51L322.46 147.41L322.78 147.31L323.10 147.20L323.41 147.10L323.73 147.01L324.05 146.91L324.36 146.81L324.68 146.71L325.00 146.61L325.31 146.52L325.63 146.42L325.95 146.33L326.27 146.24L326.58 146.14L326.90 146.05L327.22 145.96L327.53 145.87L327.85 145.78L328.17 145.69L328.48 145.60L328.80 145.51L329.12 145.42L329.44 145.33L329.75 145.24L330.07 145.16L330.39 145.07L330.70 144.99L331.02 144.90L331.34 144.82L331.65 144.73L331.97 144.66L332.29 144.58L332.61 144.50L332.92 144.43L333.24 144.35L333.56 144.27L333.87 144.20L334.19 144.13L334.51 144.05L334.82 143.98L335.14 143.91L335.46 143.83L335.78 143.76L336.09 143.69L336.41 143.62L336.73 143.55L337.04 143.48L337.36 143.41L337.68 143.34L337.99 143.27L338.31 143.20L338.63 143.14L338.95 143.07L339.26 143.00L339.58 142.94L339.90 142.87L340.21 142.80L340.53 142.74L340.85 142.67L341.16 142.61L341.48 142.55L341.80 142.48L342.12 142.42L342.43 142.36L342.75 142.29L343.07 142.23L343.38 142.17L343.70 142.11L344.02 142.05L344.33 141.99L344.65 141.93L344.97 141.87L345.30 141.81L345.63 141.75L345.96 141.69L346.29 141.64L346.62 141.58L346.95 141.52L347.28 141.46L347.61 141.41L347.94 141.36L348.27 141.31L348.60 141.26L348.93 141.21L349.26 141.17L349.59 141.12L349.92 141.07L350.25 141.03L350.58 140.98L350.91 140.94L351.24 140.89L351.57 140.85L351.90 140.80L352.23 140.76L352.56 140.72L352.89 140.67L353.22 140.63L353.55 140.59L353.88 140.54L354.21 140.50L354.54 140.46L354.87 140.42L355.20 140.38L355.53 140.34L355.86 140.29L356.19 140.25L356.53 140.21L356.86 140.17L357.19 140.13L357.52 140.10L357.85 140.06L358.18 140.02L358.51 139.98L358.84 139.94L359.17 139.90L359.50 139.86L359.83 139.83L360.16 139.79L360.49 139.75L360.82 139.72L361.15 139.68L361.48 139.64L361.81 139.61L362.14 139.57L362.47 139.54L362.80 139.50L363.13 139.47L363.46 139.43L363.79 139.40L364.12 139.36L364.45 139.33L364.78 139.30L365.11 139.27L365.44 139.24L365.77 139.21L366.10 139.18L366.43 139.15L366.76 139.12L367.09 139.09L367.42 139.06L367.75 139.03L368.08 139.00L368.41 138.97L368.74 138.94L369.07 138.91L369.40 138.88L369.73 138.85L370.06 138.83L370.39 138.80L370.72 138.77L371.05 138.74L371.38 138.72L371.71 138.69L372.05 138.66L372.38 138.64L372.71 138.61L373.04 138.58L373.37 138.56L373.70 138.53L374.03 138.51L374.36 138.48L374.69 138.46L375.02 138.43L375.35 138.41L375.68 138.38L376.01 138.36L376.34 138.33L376.67 138.31L377.00 138.28L377.33 138.26L377.66 138.24L377.99 138.21L378.32 138.19L378.65 138.17L378.98 138.14L379.31 138.12L379.64 138.10L379.97 138.08L380.30 138.05L380.63 138.03L380.96 138.01L381.29 137.99L381.62 137.97L381.95 137.94L382.28 137.92L382.61 137.90L382.94 137.88L383.27 137.86L383.60 137.84L383.93 137.82L384.26 137.80L384.59 137.78L384.92 137.76L385.25 137.74L385.58 137.72L385.91 137.70L386.24 137.68L386.57 137.66L386.90 137.64L387.23 137.62L387.57 137.60L387.90 137.58L388.23 137.57L388.56 137.55L388.89 137.53L389.22 137.51L389.55 137.49L389.88 137.47L390.21 137.46L390.54 137.44L390.87 137.42L391.20 137.40L391.53 137.39L391.86 137.37L392.19 137.35L392.52 137.34L392.85 137.32L393.18 137.30L393.51 137.29L393.84 137.27L394.17 137.25L394.50 137.24L394.83 137.22L395.16 137.21L395.49 137.19L395.82 137.18L396.15 137.16L396.48 137.15L396.81 137.13L397.14 137.12L397.47 137.10L397.80 137.09L398.13 137.07L398.46 137.06L398.79 137.04L399.12 137.03L399.45 137.01L399.78 137.00L400.11 136.99L400.44 136.97L400.77 136.96L401.10 136.94L401.43 136.93L401.76 136.92L402.09 136.90L402.42 136.89L402.75 136.88L403.09 136.86L403.42 136.85L403.75 136.84L404.08 136.82L404.41 136.81L404.74 136.80L405.07 136.79L405.40 136.77L405.73 136.76L406.06 136.75L406.39 136.74L406.72 136.73L407.05 136.71L407.38 136.70L407.71 136.69L408.04 136.68L408.37 136.67L408.70 136.66L409.03 136.64L409.36 136.63L409.69 136.62L410.02 136.61L410.35 136.60L410.68 136.59L411.01 136.58L411.34 136.57L411.67 136.56L412.00 136.55L412.33 136.54L412.66 136.53L412.99 136.52L413.32 136.51L413.65 136.50L413.98 136.49L414.31 136.48L414.64 136.47L414.97 136.46L415.30 136.45L415.63 136.44L415.96 136.43L416.29 136.42L416.62 136.41L416.95 136.40L417.28 136.39L417.61 136.39L417.94 136.38L418.27 136.37L418.61 136.36L418.94 136.35L419.27 136.34L419.60 136.33L419.93 136.33L420.26 136.32L420.59 136.31L420.92 136.30L421.25 136.29L421.58 136.29L421.91 136.28L422.24 136.27L422.57 136.26L422.90 136.26L423.23 136.24L423.56 136.22L423.89 136.20L424.22 136.19L424.55 136.17L424.88 136.15L425.21 136.14L425.54 136.12L425.87 136.10L426.20 136.09" stroke="#000" stroke-width="1.3" fill="none" stroke-linejoin="round"/>
<rect x="75.13" y="72.17" width="6.00" height="6.00" stroke="#ff8080" stroke-width="2.6" fill="none"/>
<rect x="77.23" y="74.27" width="1.8" height="1.8" fill="#ff8080"/>
<rect x="100.44" y="80.02" width="6.00" height="6.00" stroke="#ff8080" stroke-width="2.6" fill="none"/>
<rect x="102.54" y="82.12" width="1.8" height="1.8" fill="#ff8080"/>
<rect x="122.36" y="86.84" width="6.00" height="6.00" stroke="#ff8080" stroke-width="2.6" fill="none"/>
<rect x="124.46" y="88.94" width="1.8" height="1.8" fill="#ff8080"/>
<rect x="141.69" y="92.90" width="6.00" height="6.00" stroke="#ff8080" stroke-width="2.6" fill="none"/>
<rect x="143.79" y="95.00" width="1.8" height="1.8" fill="#ff8080"/>
<rect x="158.99" y="98.35" width="6.00" height="6.00" stroke="#ff8080" stroke-width="2.6" fill="none"/>
<rect x="161.09" y="100.45" width="1.8" height="1.8" fill="#ff8080"/>
<rect x="174.64" y="103.31" width="6.00" height="6.00" stroke="#ff8080" stroke-width="2.6" fill="none"/>
<rect x="176.74" y="105.41" width="1.8" height="1.8" fill="#ff8080"/>
<rect x="188.92" y="107.87" width="6.00" height="6.00" stroke="#ff8080" stroke-width="2.6" fill="none"/>
<rect x="191.02" y="109.97" width="1.8" height="1.8" fill="#ff8080"/>
<rect x="202.06" y="112.10" width="6.00" height="6.00" stroke="#ff8080" stroke-width="2.6" fill="none"/>
<rect x="204.16" y="114.20" width="1.8" height="1.8" fill="#ff8080"/>
<rect x="214.23" y="116.05" width="6.00" height="6.00" stroke="#ff8080" stroke-width="2.6" fill="none"/>
<rect x="216.33" y="118.15" width="1.8" height="1.8" fill="#ff8080"/>
<rect x="225.55" y="119.76" width="6.00" height="6.00" stroke="#ff8080" stroke-width="2.6" fill="none"/>
<rect x="227.65" y="121.86" width="1.8" height="1.8" fill="#ff8080"/>
<rect x="236.15" y="123.27" width="6.00" height="6.00" stroke="#ff8080" stroke-width="2.6" fill="none"/>
<rect x="238.25" y="125.37" width="1.8" height="1.8" fill="#ff8080"/>
<rect x="246.10" y="126.60" width="6.00" height="6.00" stroke="#ff8080" stroke-width="2.6" fill="none"/>
<rect x="248.20" y="128.70" width="1.8" height="1.8" fill="#ff8080"/>
<rect x="255.48" y="129.78" width="6.00" height="6.00" stroke="#ff8080" stroke-width="2.6" fill="none"/>
<rect x="257.58" y="131.88" width="1.8" height="1.8" fill="#ff8080"/>
<rect x="264.36" y="132.82" width="6.00" height="6.00" stroke="#ff8080" stroke-width="2.6" fill="none"/>
<rect x="266.46" y="134.92" width="1.8" height="1.8" fill="#ff8080"/>
<rect x="272.78" y="135.74" width="6.00" height="6.00" stroke="#ff8080" stroke-width="2.6" fill="none"/>
<rect x="274.88" y="137.84" width="1.8" height="1.8" fill="#ff8080"/>
<rect x="280.79" y="138.57" width="6.00" height="6.00" stroke="#ff8080" stroke-width="2.6" fill="none"/>
<rect x="282.89" y="140.67" width="1.8" height="1.8" fill="#ff8080"/>
<rect x="288.43" y="141.30" width="6.00" height="6.00" stroke="#ff8080" stroke-width="2.6" fill="none"/>
<rect x="290.53" y="143.40" width="1.8" height="1.8" fill="#ff8080"/>
<rect x="295.72" y="143.95" width="6.00" height="6.00" stroke="#ff8080" stroke-width="2.6" fill="none"/>
<rect x="297.82" y="146.05" width="1.8" height="1.8" fill="#ff8080"/>
<rect x="302.71" y="146.53" width="6.00" height="6.00" stroke="#ff8080" stroke-width="2.6" fill="none"/>
<rect x="304.81" y="148.63" width="1.8" height="1.8" fill="#ff8080"/>
<rect x="309.41" y="149.05" width="6.00" height="6.00" stroke="#ff8080" stroke-width="2.6" fill="none"/>
<rect x="311.51" y="151.15" width="1.8" height="1.8" fill="#ff8080"/>
<rect x="315.85" y="151.52" width="6.00" height="6.00" stroke="#ff8080" stroke-width="2.6" fill="none"/>
<rect x="317.95" y="153.62" width="1.8" height="1.8" fill="#ff8080"/>
<rect x="322.04" y="153.95" width="6.00" height="6.00" stroke="#ff8080" stroke-width="2.6" fill="none"/>
<rect x="324.14" y="156.05" width="1.8" height="1.8" fill="#ff8080"/>
<rect x="328.02" y="156.33" width="6.00" height="6.00" stroke="#ff8080" stroke-width="2.6" fill="none"/>
<rect x="330.12" y="158.43" width="1.8" height="1.8" fill="#ff8080"/>
<rect x="333.78" y="158.69" width="6.00" height="6.00" stroke="#ff8080" stroke-width="2.6" fill="none"/>
<rect x="335.88" y="160.79" width="1.8" height="1.8" fill="#ff8080"/>
<rect x="339.34" y="161.02" width="6.00" height="6.00" stroke="#ff8080" stroke-width="2.6" fill="none"/>
<rect x="341.44" y="163.12" width="1.8" height="1.8" fill="#ff8080"/>
<rect x="344.72" y="163.33" width="6.00" height="6.00" stroke="#ff8080" stroke-width="2.6" fill="none"/>
<rect x="346.82" y="165.43" width="1.8" height="1.8" fill="#ff8080"/>
<rect x="349.94" y="165.62" width="6.00" height="6.00" stroke="#ff8080" stroke-width="2.6" fill="none"/>
<rect x="352.04" y="167.72" width="1.8" height="1.8" fill="#ff8080"/>
<rect x="354.99" y="167.91" width="6.00" height="6.00" stroke="#ff8080" stroke-width="2.6" fill="none"/>
<rect x="357.09" y="170.01" width="1.8" height="1.8" fill="#ff8080"/>
<rect x="359.89" y="170.20" width="6.00" height="6.00" stroke="#ff8080" stroke-width="2.6" fill="none"/>
<rect x="361.99" y="172.30" width="1.8" height="1.8" fill="#ff8080"/>
<rect x="364.65" y="172.50" width="6.00" height="6.00" stroke="#ff8080" stroke-width="2.6" fill="none"/>
<rect x="366.75" y="174.60" width="1.8" height="1.8" fill="#ff8080"/>
<rect x="369.27" y="174.80" width="6.00" height="6.00" stroke="#ff8080" stroke-width="2.6" fill="none"/>
<rect x="371.37" y="176.90" width="1.8" height="1.8" fill="#ff8080"/>
<rect x="373.77" y="177.13" width="6.00" height="6.00" stroke="#ff8080" stroke-width="2.6" fill="none"/>
<rect x="375.87" y="179.23" width="1.8" height="1.8" fill="#ff8080"/>
<rect x="378.15" y="179.48" width="6.00" height="6.00" stroke="#ff8080" stroke-width="2.6" fill="none"/>
<rect x="380.25" y="181.58" width="1.8" height="1.8" fill="#ff8080"/>
<rect x="382.41" y="181.86" width="6.00" height="6.00" stroke="#ff8080" stroke-width="2.6" fill="none"/>
<rect x="384.51" y="183.96" width="1.8" height="1.8" fill="#ff8080"/>
<rect x="386.57" y="184.29" width="6.00" height="6.00" stroke="#ff8080" stroke-width="2.6" fill="none"/>
<rect x="388.67" y="186.39" width="1.8" height="1.8" fill="#ff8080"/>
<rect x="390.62" y="186.77" width="6.00" height="6.00" stroke="#ff8080" stroke-width="2.6" fill="none"/>
<rect x="392.72" y="188.87" width="1.8" height="1.8" fill="#ff8080"/>
<rect x="394.58" y="189.32" width="6.00" height="6.00" stroke="#ff8080" stroke-width="2.6" fill="none"/>
<rect x="396.68" y="191.42" width="1.8" height="1.8" fill="#ff8080"/>
<rect x="398.44" y="191.94" width="6.00" height="6.00" stroke="#ff8080" stroke-width="2.6" fill="none"/>
<rect x="400.54" y="194.04" width="1.8" height="1.8" fill="#ff8080"/>
<rect x="402.21" y="194.66" width="6.00" height="6.00" stroke="#ff8080" stroke-width="2.6" fill="none"/>
<rect x="404.31" y="196.76" width="1.8" height="1.8" fill="#ff8080"/>
<rect x="405.90" y="197.49" width="6.00" height="6.00" stroke="#ff8080" stroke-width="2.6" fill="none"/>
<rect x="408.00" y="199.59" width="1.8" height="1.8" fill="#ff8080"/>
<rect x="409.51" y="200.45" width="6.00" height="6.00" stroke="#ff8080" stroke-width="2.6" fill="none"/>
<rect x="411.61" y="202.55" width="1.8" height="1.8" fill="#ff8080"/>
<rect x="413.04" y="203.59" width="6.00" height="6.00" stroke="#ff8080" stroke-width="2.6" fill="none"/>
<rect x="415.14" y="205.69" width="1.8" height="1.8" fill="#ff8080"/>
<rect x="416.50" y="206.92" width="6.00" height="6.00" stroke="#ff8080" stroke-width="2.6" fill="none"/>
<rect x="418.60" y="209.02" width="1.8" height="1.8" fill="#ff8080"/>
<rect x="419.88" y="210.51" width="6.00" height="6.00" stroke="#ff8080" stroke-width="2.6" fill="none"/>
<rect x="421.98" y="212.61" width="1.8" height="1.8" fill="#ff8080"/>
<path d="M56.21 66.10L57.03 66.35L57.86 66.61L58.68 66.86L59.51 67.12L60.33 67.37L61.15 67.62L61.98 67.88L62.80 68.13L63.63 68.39L64.45 68.64L65.27 68.90L66.10 69.15L66.92 69.41L67.75 69.66L68.57 69.92L69.39 70.17L70.22 70.42L71.04 70.68L71.87 70.93L72.69 71.19L73.51 71.44L74.34 71.70L75.16 71.95L75.99 72.21L76.81 72.46L77.63 72.72L78.46 72.98L79.28 73.25L80.11 73.51L80.93 73.78L81.75 74.05L82.58 74.32L83.40 74.59L84.23 74.85L85.05 75.12L85.87 75.39L86.70 75.66L87.52 75.93L88.35 76.20L89.17 76.46L89.99 76.73L90.82 77.00L91.64 77.27L92.47 77.54L93.29 77.81L94.12 78.08L94.94 78.34L95.76 78.61L96.59 78.88L97.41 79.15L98.24 79.42L99.06 79.69L99.88 79.96L100.71 80.23L101.53 80.49L102.36 80.76L103.18 81.03L104.00 81.31L104.83 81.58L105.65 81.86L106.48 82.13L107.30 82.41L108.12 82.68L108.95 82.96L109.77 83.23L110.60 83.51L111.42 83.78L112.24 84.06L113.07 84.33L113.89 84.61L114.72 84.88L115.54 85.16L116.36 85.43L117.19 85.71L118.01 85.98L118.84 86.26L119.66 86.54L120.48 86.81L121.31 87.09L122.13 87.36L122.96 87.64L123.78 87.92L124.60 88.19L125.43 88.47L126.25 88.73L127.08 89.00L127.90 89.27L128.72 89.53L129.55 89.80L130.37 90.07L131.20 90.33L132.02 90.60L132.84 90.87L133.67 91.13L134.49 91.40L135.32 91.67L136.14 91.93L136.96 92.20L137.79 92.47L138.61 92.74L139.44 93.00L140.26 93.27L141.08 93.54L141.91 93.80L142.73 94.07L143.56 94.34L144.38 94.61L145.21 94.88L146.03 95.14L146.85 95.41L147.68 95.68L148.50 95.95L149.33 96.22L150.15 96.48L150.97 96.75L151.80 97.02L152.62 97.29L153.45 97.56L154.27 97.83L155.09 98.09L155.92 98.36L156.74 98.63L157.57 98.90L158.39 99.17L159.21 99.44L160.04 99.71L160.86 99.98L161.69 100.25L162.51 100.51L163.33 100.77L164.16 101.04L164.98 101.30L165.81 101.56L166.63 101.83L167.45 102.09L168.28 102.35L169.10 102.62L169.93 102.88L170.75 103.14L171.57 103.41L172.40 103.67L173.22 103.94L174.05 104.20L174.87 104.47L175.69 104.73L176.52 104.99L177.34 105.26L178.17 105.52L178.99 105.79L179.81 106.05L180.64 106.32L181.46 106.58L182.29 106.85L183.11 107.11L183.93 107.38L184.76 107.64L185.58 107.91L186.41 108.18L187.23 108.44L188.05 108.71L188.88 108.97L189.70 109.24L190.53 109.51L191.35 109.77L192.17 110.04L193.00 110.31L193.82 110.57L194.65 110.84L195.47 111.11L196.30 111.38L197.12 111.64L197.94 111.91L198.77 112.18L199.59 112.45L200.42 112.71L201.24 112.98L202.06 113.25L202.89 113.52L203.71 113.79L204.54 114.06L205.36 114.32L206.18 114.59L207.01 114.86L207.83 115.13L208.66 115.40L209.48 115.67L210.30 115.94L211.13 116.21L211.95 116.48L212.78 116.75L213.60 117.02L214.42 117.29L215.25 117.56L216.07 117.83L216.90 118.10L217.72 118.38L218.54 118.65L219.37 118.92L220.19 119.19L221.02 119.46L221.84 119.74L222.66 120.01L223.49 120.28L224.31 120.55L225.14 120.83L225.96 121.10L226.78 121.37L227.61 121.65L228.43 121.92L229.26 122.19L230.08 122.47L230.90 122.75L231.73 123.02L232.55 123.30L233.38 123.57L234.20 123.85L235.02 124.13L235.85 124.40L236.67 124.68L237.50 124.96L238.32 125.23L239.14 125.51L239.97 125.79L240.79 126.07L241.62 126.35L242.44 126.62L243.26 126.90L244.09 127.18L244.91 127.46L245.74 127.74L246.56 128.02L247.39 128.30L248.21 128.58L249.03 128.86L249.86 129.14L250.68 129.43L251.51 129.71L252.33 129.99L253.15 130.27L253.98 130.55L254.80 130.84L255.63 131.12L256.45 131.40L257.27 131.69L258.10 131.97L258.92 132.25L259.75 132.54L260.57 132.82L261.39 133.11L262.22 133.39L263.04 133.68L263.87 133.97L264.69 134.25L265.51 134.54L266.34 134.83L267.16 135.11L267.99 135.40L268.81 135.69L269.63 135.98L270.46 136.27L271.28 136.56L272.11 136.85L272.93 137.14L273.75 137.43L274.58 137.72L275.40 138.01L276.23 138.30L277.05 138.60L277.87 138.89L278.70 139.18L279.52 139.47L280.35 139.77L281.17 140.06L281.99 140.36L282.82 140.65L283.64 140.95L284.47 141.25L285.29 141.54L286.11 141.84L286.94 142.14L287.76 142.44L288.59 142.74L289.41 143.03L290.23 143.33L291.06 143.63L291.88 143.94L292.71 144.24L293.53 144.54L294.35 144.84L295.18 145.14L296.00 145.45L296.83 145.75L297.65 146.06L298.48 146.36L299.30 146.67L300.12 146.97L300.95 147.28L301.77 147.59L302.60 147.90L303.42 148.21L304.24 148.51L305.07 148.82L305.89 149.14L306.72 149.45L307.54 149.76L308.36 150.07L309.19 150.39L310.01 150.70L310.84 151.01L311.66 151.33L312.48 151.65L313.31 151.96L314.13 152.28L314.96 152.60L315.78 152.92L316.60 153.24L317.43 153.56L318.25 153.88L319.08 154.21L319.90 154.53L320.72 154.85L321.55 155.18L322.37 155.50L323.20 155.83L324.02 156.16L324.84 156.49L325.67 156.82L326.49 157.15L327.32 157.48L328.14 157.81L328.96 158.15L329.79 158.48L330.61 158.82L331.44 159.15L332.26 159.49L333.08 159.83L333.91 160.17L334.73 160.51L335.56 160.85L336.38 161.20L337.20 161.54L338.03 161.89L338.85 162.23L339.68 162.58L340.50 162.93L341.32 163.28L342.15 163.63L342.97 163.99L343.80 164.35L344.62 164.71L345.44 165.07L346.27 165.44L347.09 165.80L347.92 166.17L348.74 166.54L349.57 166.91L350.39 167.28L351.21 167.65L352.04 168.02L352.86 168.40L353.69 168.78L354.51 169.16L355.33 169.54L356.16 169.92L356.98 170.30L357.81 170.69L358.63 171.08L359.45 171.47L360.28 171.86L361.10 172.26L361.93 172.65L362.75 173.05L363.57 173.45L364.40 173.85L365.22 174.26L366.05 174.66L366.87 175.07L367.69 175.48L368.52 175.90L369.34 176.32L370.17 176.73L370.99 177.16L371.81 177.58L372.64 178.01L373.46 178.44L374.29 178.87L375.11 179.30L375.93 179.74L376.76 180.18L377.58 180.63L378.41 181.07L379.23 181.52L380.05 181.98L380.88 182.43L381.70 182.89L382.53 183.36L383.35 183.83L384.17 184.30L385.00 184.77L385.82 185.25L386.65 185.74L387.47 186.22L388.29 186.72L389.12 187.21L389.94 187.71L390.77 188.22L391.59 188.73L392.41 189.24L393.24 189.76L394.06 190.29L394.89 190.82L395.71 191.36L396.53 191.90L397.36 192.45L398.18 193.00L399.01 193.56L399.83 194.14L400.66 194.74L401.48 195.35L402.30 195.96L403.13 196.59L403.95 197.22L404.78 197.86L405.60 198.50L406.42 199.16L407.25 199.82L408.07 200.50L408.90 201.18L409.72 201.88L410.54 202.58L411.37 203.30L412.19 204.02L413.02 204.76L413.84 205.52L414.66 206.28L415.49 207.06L416.31 207.85L417.14 208.66L417.96 209.49L418.78 210.33L419.61 211.19L420.43 212.07L421.26 212.97L422.08 213.89L422.90 214.83L423.73 215.76L424.55 216.72L425.38 217.71L426.20 218.72" stroke="#000" stroke-width="1.3" fill="none" stroke-linejoin="round"/>
<rect x="75.03" y="71.80" width="6.20" height="6.20" fill="#b0b000" shape-rendering="crispEdges"/>
<rect x="100.34" y="79.56" width="6.20" height="6.20" fill="#b0b000" shape-rendering="crispEdges"/>
<rect x="122.26" y="86.27" width="6.20" height="6.20" fill="#b0b000" shape-rendering="crispEdges"/>
<rect x="141.59" y="92.20" width="6.20" height="6.20" fill="#b0b000" shape-rendering="crispEdges"/>
<rect x="158.89" y="97.51" width="6.20" height="6.20" fill="#b0b000" shape-rendering="crispEdges"/>
<rect x="174.54" y="102.32" width="6.20" height="6.20" fill="#b0b000" shape-rendering="crispEdges"/>
<rect x="188.82" y="106.72" width="6.20" height="6.20" fill="#b0b000" shape-rendering="crispEdges"/>
<rect x="201.96" y="110.76" width="6.20" height="6.20" fill="#b0b000" shape-rendering="crispEdges"/>
<rect x="214.13" y="114.51" width="6.20" height="6.20" fill="#b0b000" shape-rendering="crispEdges"/>
<rect x="225.45" y="118.01" width="6.20" height="6.20" fill="#b0b000" shape-rendering="crispEdges"/>
<rect x="236.05" y="121.28" width="6.20" height="6.20" fill="#b0b000" shape-rendering="crispEdges"/>
<rect x="246.00" y="124.36" width="6.20" height="6.20" fill="#b0b000" shape-rendering="crispEdges"/>
<rect x="255.38" y="127.27" width="6.20" height="6.20" fill="#b0b000" shape-rendering="crispEdges"/>
<rect x="264.26" y="130.03" width="6.20" height="6.20" fill="#b0b000" shape-rendering="crispEdges"/>
<rect x="272.68" y="132.65" width="6.20" height="6.20" fill="#b0b000" shape-rendering="crispEdges"/>
<rect x="280.69" y="135.15" width="6.20" height="6.20" fill="#b0b000" shape-rendering="crispEdges"/>
<rect x="288.33" y="137.53" width="6.20" height="6.20" fill="#b0b000" shape-rendering="crispEdges"/>
<rect x="295.62" y="139.81" width="6.20" height="6.20" fill="#b0b000" shape-rendering="crispEdges"/>
<rect x="302.61" y="142.00" width="6.20" height="6.20" fill="#b0b000" shape-rendering="crispEdges"/>
<rect x="309.31" y="144.11" width="6.20" height="6.20" fill="#b0b000" shape-rendering="crispEdges"/>
<rect x="315.75" y="146.14" width="6.20" height="6.20" fill="#b0b000" shape-rendering="crispEdges"/>
<rect x="321.94" y="148.09" width="6.20" height="6.20" fill="#b0b000" shape-rendering="crispEdges"/>
<rect x="327.92" y="149.98" width="6.20" height="6.20" fill="#b0b000" shape-rendering="crispEdges"/>
<rect x="333.68" y="151.81" width="6.20" height="6.20" fill="#b0b000" shape-rendering="crispEdges"/>
<rect x="339.24" y="153.58" width="6.20" height="6.20" fill="#b0b000" shape-rendering="crispEdges"/>
<rect x="344.62" y="155.30" width="6.20" height="6.20" fill="#b0b000" shape-rendering="crispEdges"/>
<rect x="349.84" y="156.97" width="6.20" height="6.20" fill="#b0b000" shape-rendering="crispEdges"/>
<rect x="354.89" y="158.59" width="6.20" height="6.20" fill="#b0b000" shape-rendering="crispEdges"/>
<rect x="359.79" y="160.16" width="6.20" height="6.20" fill="#b0b000" shape-rendering="crispEdges"/>
<rect x="364.55" y="161.70" width="6.20" height="6.20" fill="#b0b000" shape-rendering="crispEdges"/>
<rect x="369.17" y="163.20" width="6.20" height="6.20" fill="#b0b000" shape-rendering="crispEdges"/>
<rect x="373.67" y="164.66" width="6.20" height="6.20" fill="#b0b000" shape-rendering="crispEdges"/>
<rect x="378.05" y="166.09" width="6.20" height="6.20" fill="#b0b000" shape-rendering="crispEdges"/>
<rect x="382.31" y="167.48" width="6.20" height="6.20" fill="#b0b000" shape-rendering="crispEdges"/>
<rect x="386.47" y="168.85" width="6.20" height="6.20" fill="#b0b000" shape-rendering="crispEdges"/>
<rect x="390.52" y="170.18" width="6.20" height="6.20" fill="#b0b000" shape-rendering="crispEdges"/>
<rect x="394.48" y="171.49" width="6.20" height="6.20" fill="#b0b000" shape-rendering="crispEdges"/>
<rect x="398.34" y="172.77" width="6.20" height="6.20" fill="#b0b000" shape-rendering="crispEdges"/>
<rect x="402.11" y="174.03" width="6.20" height="6.20" fill="#b0b000" shape-rendering="crispEdges"/>
<rect x="405.80" y="175.27" width="6.20" height="6.20" fill="#b0b000" shape-rendering="crispEdges"/>
<rect x="409.41" y="176.48" width="6.20" height="6.20" fill="#b0b000" shape-rendering="crispEdges"/>
<rect x="412.94" y="177.68" width="6.20" height="6.20" fill="#b0b000" shape-rendering="crispEdges"/>
<rect x="416.40" y="178.85" width="6.20" height="6.20" fill="#b0b000" shape-rendering="crispEdges"/>
<rect x="419.78" y="180.00" width="6.20" height="6.20" fill="#b0b000" shape-rendering="crispEdges"/>
<rect x="76.13" y="72.86" width="4.00" height="4.00" fill="#80ff80" shape-rendering="crispEdges"/>
<rect x="101.44" y="80.59" width="4.00" height="4.00" fill="#80ff80" shape-rendering="crispEdges"/>
<rect x="123.36" y="87.30" width="4.00" height="4.00" fill="#80ff80" shape-rendering="crispEdges"/>
<rect x="142.69" y="93.21" width="4.00" height="4.00" fill="#80ff80" shape-rendering="crispEdges"/>
<rect x="159.99" y="98.49" width="4.00" height="4.00" fill="#80ff80" shape-rendering="crispEdges"/>
<rect x="175.64" y="103.27" width="4.00" height="4.00" fill="#80ff80" shape-rendering="crispEdges"/>
<rect x="189.92" y="107.64" width="4.00" height="4.00" fill="#80ff80" shape-rendering="crispEdges"/>
<rect x="203.06" y="111.66" width="4.00" height="4.00" fill="#80ff80" shape-rendering="crispEdges"/>
<rect x="215.23" y="115.38" width="4.00" height="4.00" fill="#80ff80" shape-rendering="crispEdges"/>
<rect x="226.55" y="118.84" width="4.00" height="4.00" fill="#80ff80" shape-rendering="crispEdges"/>
<rect x="237.15" y="122.08" width="4.00" height="4.00" fill="#80ff80" shape-rendering="crispEdges"/>
<rect x="247.10" y="125.12" width="4.00" height="4.00" fill="#80ff80" shape-rendering="crispEdges"/>
<rect x="256.48" y="127.99" width="4.00" height="4.00" fill="#80ff80" shape-rendering="crispEdges"/>
<rect x="265.36" y="130.70" width="4.00" height="4.00" fill="#80ff80" shape-rendering="crispEdges"/>
<rect x="273.78" y="133.27" width="4.00" height="4.00" fill="#80ff80" shape-rendering="crispEdges"/>
<rect x="281.79" y="135.72" width="4.00" height="4.00" fill="#80ff80" shape-rendering="crispEdges"/>
<rect x="289.43" y="138.06" width="4.00" height="4.00" fill="#80ff80" shape-rendering="crispEdges"/>
<rect x="296.72" y="140.29" width="4.00" height="4.00" fill="#80ff80" shape-rendering="crispEdges"/>
<rect x="303.71" y="142.42" width="4.00" height="4.00" fill="#80ff80" shape-rendering="crispEdges"/>
<rect x="310.41" y="144.47" width="4.00" height="4.00" fill="#80ff80" shape-rendering="crispEdges"/>
<rect x="316.85" y="146.44" width="4.00" height="4.00" fill="#80ff80" shape-rendering="crispEdges"/>
<rect x="323.04" y="148.33" width="4.00" height="4.00" fill="#80ff80" shape-rendering="crispEdges"/>
<rect x="329.02" y="150.16" width="4.00" height="4.00" fill="#80ff80" shape-rendering="crispEdges"/>
<rect x="334.78" y="151.92" width="4.00" height="4.00" fill="#80ff80" shape-rendering="crispEdges"/>
<rect x="340.34" y="153.62" width="4.00" height="4.00" fill="#80ff80" shape-rendering="crispEdges"/>
<rect x="345.72" y="155.26" width="4.00" height="4.00" fill="#80ff80" shape-rendering="crispEdges"/>
<rect x="350.94" y="156.86" width="4.00" height="4.00" fill="#80ff80" shape-rendering="crispEdges"/>
<rect x="355.99" y="158.40" width="4.00" height="4.00" fill="#80ff80" shape-rendering="crispEdges"/>
<rect x="360.89" y="159.90" width="4.00" height="4.00" fill="#80ff80" shape-rendering="crispEdges"/>
<rect x="365.65" y="161.35" width="4.00" height="4.00" fill="#80ff80" shape-rendering="crispEdges"/>
<rect x="370.27" y="162.77" width="4.00" height="4.00" fill="#80ff80" shape-rendering="crispEdges"/>
<rect x="374.77" y="164.14" width="4.00" height="4.00" fill="#80ff80" shape-rendering="crispEdges"/>
<rect x="379.15" y="165.48" width="4.00" height="4.00" fill="#80ff80" shape-rendering="crispEdges"/>
<rect x="383.41" y="166.78" width="4.00" height="4.00" fill="#80ff80" shape-rendering="crispEdges"/>
<rect x="387.57" y="168.05" width="4.00" height="4.00" fill="#80ff80" shape-rendering="crispEdges"/>
<rect x="391.62" y="169.29" width="4.00" height="4.00" fill="#80ff80" shape-rendering="crispEdges"/>
<rect x="395.58" y="170.50" width="4.00" height="4.00" fill="#80ff80" shape-rendering="crispEdges"/>
<rect x="399.44" y="171.68" width="4.00" height="4.00" fill="#80ff80" shape-rendering="crispEdges"/>
<rect x="403.21" y="172.84" width="4.00" height="4.00" fill="#80ff80" shape-rendering="crispEdges"/>
<rect x="406.90" y="173.96" width="4.00" height="4.00" fill="#80ff80" shape-rendering="crispEdges"/>
<rect x="410.51" y="175.07" width="4.00" height="4.00" fill="#80ff80" shape-rendering="crispEdges"/>
<rect x="414.04" y="176.15" width="4.00" height="4.00" fill="#80ff80" shape-rendering="crispEdges"/>
<rect x="417.50" y="177.20" width="4.00" height="4.00" fill="#80ff80" shape-rendering="crispEdges"/>
<rect x="420.88" y="178.24" width="4.00" height="4.00" fill="#80ff80" shape-rendering="crispEdges"/>
<path d="M229.26 120.52L230.08 120.79L230.90 121.05L231.73 121.31L232.55 121.57L233.38 121.83L234.20 122.10L235.02 122.36L235.85 122.62L236.67 122.88L237.50 123.14L238.32 123.41L239.14 123.67L239.97 123.93L240.79 124.19L241.62 124.46L242.44 124.72L243.26 124.98L244.09 125.24L244.91 125.50L245.74 125.77L246.56 126.03L247.39 126.29L248.21 126.56L249.03 126.82L249.86 127.08L250.68 127.34L251.51 127.61L252.33 127.87L253.15 128.13L253.98 128.39L254.80 128.66L255.63 128.92L256.45 129.18L257.27 129.45L258.10 129.71L258.92 129.97L259.75 130.23L260.57 130.50L261.39 130.76L262.22 131.02L263.04 131.29L263.87 131.55L264.69 131.81L265.51 132.08L266.34 132.34L267.16 132.60L267.99 132.87L268.81 133.13L269.63 133.39L270.46 133.66L271.28 133.92L272.11 134.18L272.93 134.45L273.75 134.71L274.58 134.98L275.40 135.24L276.23 135.50L277.05 135.76L277.87 136.03L278.70 136.29L279.52 136.55L280.35 136.81L281.17 137.07L281.99 137.33L282.82 137.59L283.64 137.86L284.47 138.12L285.29 138.38L286.11 138.64L286.94 138.90L287.76 139.17L288.59 139.43L289.41 139.69L290.23 139.95L291.06 140.21L291.88 140.48L292.71 140.74L293.53 141.00L294.35 141.26L295.18 141.53L296.00 141.78L296.83 142.04L297.65 142.29L298.48 142.55L299.30 142.80L300.12 143.06L300.95 143.31L301.77 143.57L302.60 143.82L303.42 144.08L304.24 144.34L305.07 144.59L305.89 144.85L306.72 145.10L307.54 145.36L308.36 145.62L309.19 145.87L310.01 146.13L310.84 146.38L311.66 146.64L312.48 146.90L313.31 147.15L314.13 147.41L314.96 147.67L315.78 147.92L316.60 148.18L317.43 148.44L318.25 148.69L319.08 148.95L319.90 149.21L320.72 149.46L321.55 149.72L322.37 149.98L323.20 150.24L324.02 150.49L324.84 150.75L325.67 151.01L326.49 151.27L327.32 151.52L328.14 151.78L328.96 152.04L329.79 152.30L330.61 152.56L331.44 152.81L332.26 153.07L333.08 153.33L333.91 153.59L334.73 153.85L335.56 154.11L336.38 154.37L337.20 154.62L338.03 154.88L338.85 155.14L339.68 155.40L340.50 155.66L341.32 155.92L342.15 156.18L342.97 156.44L343.80 156.70L344.62 156.96L345.44 157.23L346.27 157.49L347.09 157.75L347.92 158.01L348.74 158.28L349.57 158.54L350.39 158.80L351.21 159.07L352.04 159.33L352.86 159.59L353.69 159.86L354.51 160.12L355.33 160.38L356.16 160.65L356.98 160.91L357.81 161.17L358.63 161.44L359.45 161.70L360.28 161.97L361.10 162.23L361.93 162.50L362.75 162.76L363.57 163.03L364.40 163.29L365.22 163.56L366.05 163.82L366.87 164.09L367.69 164.35L368.52 164.62L369.34 164.89L370.17 165.15L370.99 165.42L371.81 165.69L372.64 165.95L373.46 166.22L374.29 166.49L375.11 166.76L375.93 167.02L376.76 167.29L377.58 167.56L378.41 167.83L379.23 168.10L380.05 168.36L380.88 168.63L381.70 168.90L382.53 169.17L383.35 169.44L384.17 169.71L385.00 169.98L385.82 170.25L386.65 170.52L387.47 170.79L388.29 171.06L389.12 171.33L389.94 171.60L390.77 171.87L391.59 172.14L392.41 172.42L393.24 172.69L394.06 172.96L394.89 173.23L395.71 173.50L396.53 173.78L397.36 174.05L398.18 174.32L399.01 174.60L399.83 174.87L400.66 175.15L401.48 175.43L402.30 175.70L403.13 175.98L403.95 176.26L404.78 176.54L405.60 176.81L406.42 177.09L407.25 177.37L408.07 177.65L408.90 177.93L409.72 178.21L410.54 178.49L411.37 178.77L412.19 179.05L413.02 179.33L413.84 179.62L414.66 179.90L415.49 180.18L416.31 180.46L417.14 180.74L417.96 181.03L418.78 181.31L419.61 181.59L420.43 181.88L421.26 182.16L422.08 182.45L422.90 182.73L423.73 183.01L424.55 183.30L425.38 183.58L426.20 183.86" stroke="#000" stroke-width="1.3" fill="none" stroke-linejoin="round"/>
<path d="M56.21 65.86L57.03 66.11L57.86 66.36L58.68 66.61L59.51 66.87L60.33 67.12L61.15 67.37L61.98 67.62L62.80 67.87L63.63 68.13L64.45 68.38L65.27 68.63L66.10 68.88L66.92 69.13L67.75 69.39L68.57 69.64L69.39 69.89L70.22 70.14L71.04 70.39L71.87 70.64L72.69 70.90L73.51 71.15L74.34 71.40L75.16 71.65L75.99 71.90L76.81 72.16L77.63 72.41L78.46 72.67L79.28 72.93L80.11 73.19L80.93 73.46L81.75 73.72L82.58 73.99L83.40 74.25L84.23 74.52L85.05 74.78L85.87 75.05L86.70 75.31L87.52 75.58L88.35 75.84L89.17 76.11L89.99 76.37L90.82 76.64L91.64 76.90L92.47 77.17L93.29 77.43L94.12 77.70L94.94 77.96L95.76 78.23L96.59 78.49L97.41 78.76L98.24 79.02L99.06 79.29L99.88 79.55L100.71 79.82L101.53 80.08L102.36 80.35L103.18 80.61L104.00 80.88L104.83 81.15L105.65 81.42L106.48 81.69L107.30 81.96L108.12 82.23L108.95 82.50L109.77 82.78L110.60 83.05L111.42 83.32L112.24 83.59L113.07 83.86L113.89 84.13L114.72 84.40L115.54 84.67L116.36 84.94L117.19 85.21L118.01 85.48L118.84 85.75L119.66 86.02L120.48 86.29L121.31 86.57L122.13 86.84L122.96 87.11L123.78 87.38L124.60 87.65L125.43 87.92L126.25 88.18L127.08 88.44L127.90 88.70L128.72 88.96L129.55 89.22L130.37 89.48L131.20 89.74L132.02 90.00L132.84 90.27L133.67 90.53L134.49 90.79L135.32 91.05L136.14 91.31L136.96 91.57L137.79 91.83L138.61 92.09L139.44 92.35L140.26 92.61L141.08 92.87L141.91 93.14L142.73 93.40L143.56 93.66L144.38 93.92L145.21 94.18L146.03 94.44L146.85 94.70L147.68 94.96L148.50 95.22L149.33 95.48L150.15 95.74L150.97 96.00L151.80 96.27L152.62 96.53L153.45 96.79L154.27 97.05L155.09 97.31L155.92 97.57L156.74 97.83L157.57 98.09L158.39 98.35L159.21 98.61L160.04 98.87L160.86 99.14L161.69 99.40L162.51 99.65L163.33 99.91L164.16 100.16L164.98 100.42L165.81 100.67L166.63 100.92L167.45 101.18L168.28 101.43L169.10 101.69L169.93 101.94L170.75 102.20L171.57 102.45L172.40 102.70L173.22 102.96L174.05 103.21L174.87 103.47L175.69 103.72L176.52 103.98L177.34 104.23L178.17 104.49L178.99 104.74L179.81 104.99L180.64 105.25L181.46 105.50L182.29 105.76L183.11 106.01L183.93 106.27L184.76 106.52L185.58 106.77L186.41 107.03L187.23 107.28L188.05 107.54L188.88 107.79L189.70 108.05L190.53 108.30L191.35 108.56L192.17 108.81L193.00 109.06L193.82 109.32L194.65 109.57L195.47 109.83L196.30 110.08L197.12 110.34L197.94 110.59L198.77 110.84L199.59 111.10L200.42 111.35L201.24 111.61L202.06 111.86L202.89 112.12L203.71 112.37L204.54 112.62L205.36 112.88L206.18 113.13L207.01 113.39L207.83 113.64L208.66 113.90L209.48 114.15L210.30 114.41L211.13 114.66L211.95 114.91L212.78 115.17L213.60 115.42L214.42 115.68L215.25 115.93L216.07 116.19L216.90 116.44L217.72 116.69L218.54 116.95L219.37 117.20L220.19 117.46L221.02 117.71L221.84 117.97L222.66 118.22L223.49 118.47L224.31 118.73L225.14 118.98L225.96 119.24L226.78 119.49L227.61 119.75L228.43 120.00L229.26 120.25L230.08 120.51L230.90 120.76L231.73 121.01L232.55 121.26L233.38 121.51L234.20 121.76L235.02 122.02L235.85 122.27L236.67 122.52L237.50 122.77L238.32 123.02L239.14 123.28L239.97 123.53L240.79 123.78L241.62 124.03L242.44 124.28L243.26 124.54L244.09 124.79L244.91 125.04L245.74 125.29L246.56 125.54L247.39 125.79L248.21 126.05L249.03 126.30L249.86 126.55L250.68 126.80L251.51 127.05L252.33 127.31L253.15 127.56L253.98 127.81L254.80 128.06L255.63 128.31L256.45 128.57L257.27 128.82L258.10 129.07L258.92 129.32L259.75 129.57L260.57 129.82L261.39 130.08L262.22 130.33L263.04 130.58L263.87 130.83L264.69 131.08L265.51 131.34L266.34 131.59L267.16 131.84L267.99 132.09L268.81 132.34L269.63 132.60L270.46 132.85L271.28 133.10L272.11 133.35L272.93 133.60L273.75 133.85L274.58 134.11L275.40 134.36L276.23 134.61L277.05 134.86L277.87 135.11L278.70 135.36L279.52 135.61L280.35 135.86L281.17 136.11L281.99 136.35L282.82 136.60L283.64 136.85L284.47 137.10L285.29 137.35L286.11 137.60L286.94 137.85L287.76 138.10L288.59 138.35L289.41 138.60L290.23 138.85L291.06 139.10L291.88 139.35L292.71 139.60L293.53 139.85L294.35 140.10L295.18 140.34L296.00 140.59L296.83 140.84L297.65 141.09L298.48 141.34L299.30 141.59L300.12 141.84L300.95 142.09L301.77 142.34L302.60 142.59L303.42 142.84L304.24 143.09L305.07 143.34L305.89 143.59L306.72 143.84L307.54 144.09L308.36 144.34L309.19 144.58L310.01 144.83L310.84 145.08L311.66 145.33L312.48 145.58L313.31 145.83L314.13 146.08L314.96 146.33L315.78 146.58L316.60 146.83L317.43 147.08L318.25 147.33L319.08 147.58L319.90 147.83L320.72 148.08L321.55 148.33L322.37 148.58L323.20 148.82L324.02 149.07L324.84 149.32L325.67 149.57L326.49 149.82L327.32 150.07L328.14 150.32L328.96 150.57L329.79 150.82L330.61 151.07L331.44 151.32L332.26 151.57L333.08 151.82L333.91 152.07L334.73 152.32L335.56 152.57L336.38 152.81L337.20 153.06L338.03 153.31L338.85 153.56L339.68 153.81L340.50 154.06L341.32 154.31L342.15 154.56L342.97 154.82L343.80 155.08L344.62 155.35L345.44 155.61L346.27 155.87L347.09 156.14L347.92 156.40L348.74 156.66L349.57 156.93L350.39 157.19L351.21 157.45L352.04 157.72L352.86 157.98L353.69 158.25L354.51 158.51L355.33 158.77L356.16 159.04L356.98 159.30L357.81 159.56L358.63 159.83L359.45 160.09L360.28 160.35L361.10 160.62L361.93 160.88L362.75 161.14L363.57 161.41L364.40 161.67L365.22 161.93L366.05 162.20L366.87 162.46L367.69 162.72L368.52 162.99L369.34 163.25L370.17 163.51L370.99 163.78L371.81 164.04L372.64 164.30L373.46 164.57L374.29 164.83L375.11 165.09L375.93 165.36L376.76 165.62L377.58 165.88L378.41 166.15L379.23 166.41L380.05 166.67L380.88 166.94L381.70 167.20L382.53 167.46L383.35 167.73L384.17 167.99L385.00 168.25L385.82 168.52L386.65 168.78L387.47 169.04L388.29 169.31L389.12 169.57L389.94 169.84L390.77 170.10L391.59 170.36L392.41 170.63L393.24 170.89L394.06 171.15L394.89 171.42L395.71 171.68L396.53 171.94L397.36 172.21L398.18 172.47L399.01 172.73L399.83 173.00L400.66 173.26L401.48 173.53L402.30 173.79L403.13 174.06L403.95 174.33L404.78 174.59L405.60 174.86L406.42 175.12L407.25 175.39L408.07 175.66L408.90 175.92L409.72 176.19L410.54 176.45L411.37 176.72L412.19 176.99L413.02 177.25L413.84 177.52L414.66 177.78L415.49 178.05L416.31 178.32L417.14 178.58L417.96 178.85L418.78 179.11L419.61 179.38L420.43 179.65L421.26 179.91L422.08 180.18L422.90 180.44L423.73 180.70L424.55 180.95L425.38 181.20L426.20 181.45" stroke="#000" stroke-width="1.3" fill="none" stroke-linejoin="round"/>
<path d="M206.30 187.46L201.40 195.40L211.20 195.40Z" fill="#e000e0"/>
<path d="M201.55 207.60H211.05M206.30 202.85V212.35" stroke="#00c000" stroke-width="1.9" fill="none"/>
<path d="M201.60 221.80H211.00M206.30 217.10V226.50M201.60 217.10L211.00 226.50M201.60 226.50L211.00 217.10" stroke="#00a0ff" stroke-width="2.5" fill="none"/>
<rect x="203.15" y="233.75" width="6.30" height="6.30" stroke="#ff8080" stroke-width="2.2" fill="none"/>
<rect x="205.40" y="236.00" width="1.8" height="1.8" fill="#ff8080"/>
<rect x="203.20" y="248.10" width="6.20" height="6.20" fill="#b0b000" shape-rendering="crispEdges"/>
<rect x="204.20" y="264.00" width="4.20" height="4.20" fill="#80ff80" shape-rendering="crispEdges"/>
<text x="16.9" y="23.900000000000002" font-size="14.2" text-anchor="start"  style="">10</text>
<path d="M33.2 15.3H39.8" stroke="#363131" stroke-width="0.9"/>
<text x="40.8" y="18.8" font-size="10.2" text-anchor="start"  style="">2</text>
<text x="16.9" y="83.10000000000001" font-size="14.2" text-anchor="start"  style="">10</text>
<path d="M33.2 74.50000000000001H39.8" stroke="#363131" stroke-width="0.9"/>
<text x="40.8" y="78.00000000000001" font-size="10.2" text-anchor="start"  style="">3</text>
<text x="16.9" y="142.3" font-size="14.2" text-anchor="start"  style="">10</text>
<path d="M33.2 133.7H39.8" stroke="#363131" stroke-width="0.9"/>
<text x="40.8" y="137.2" font-size="10.2" text-anchor="start"  style="">4</text>
<text x="16.9" y="201.50000000000003" font-size="14.2" text-anchor="start"  style="">10</text>
<path d="M33.2 192.9H39.8" stroke="#363131" stroke-width="0.9"/>
<text x="40.8" y="196.4" font-size="10.2" text-anchor="start"  style="">5</text>
<text x="16.9" y="260.7" font-size="14.2" text-anchor="start"  style="">10</text>
<path d="M33.2 252.1H39.8" stroke="#363131" stroke-width="0.9"/>
<text x="40.8" y="255.6" font-size="10.2" text-anchor="start"  style="">6</text>
<text x="47.8" y="300.4" font-size="14.2" text-anchor="middle"  style="">10</text>
<text x="425.6" y="300.4" font-size="14.2" text-anchor="middle"  style="">100</text>
<text transform="translate(237.9,313.2) scale(1.3,1)" x="0" y="0" font-size="14.2" text-anchor="middle" font-style="italic">N</text>
<g transform="translate(11.2,143) rotate(-90)">
<text x="-23.6" y="0" font-size="14.2" font-style="italic">F</text>
<text x="-14.6" y="2.2" font-size="10.2" font-style="italic">N</text>
<text x="13.0" y="0" font-size="14.2" font-style="italic">C</text>
<path d="M-0.6 -3.3H9.6" stroke="#363131" stroke-width="0.9"/>
<path d="M-26.3 -12.5V3.4M26.7 -12.5V3.4" stroke="#363131" stroke-width="0.9"/>
</g>
<text x="98.9" y="196.80" font-size="12.3" text-anchor="start"  style="font-style:italic">J</text>
<text x="105.6" y="198.70" font-size="8.9" text-anchor="start"  style="">0</text>
<path d="M115.3 192.50H124.8M115.3 194.90H124.8" stroke="#363131" stroke-width="0.85"/>
<text x="129.5" y="196.80" font-size="12.3" text-anchor="start"  style="">0</text>
<text x="136.0" y="196.80" font-size="12.3" text-anchor="start"  style="">,</text>
<text x="143.6" y="196.80" font-size="12.3" text-anchor="start"  style="font-style:italic">α</text>
<path d="M155.3 192.50H164.5M155.3 194.90H164.5" stroke="#363131" stroke-width="0.85"/>
<text x="168.6" y="196.80" font-size="12.3" text-anchor="start"  style="">10</text>
<path d="M182.3 189.20H188.3" stroke="#363131" stroke-width="0.8"/>
<text x="189.8" y="191.40" font-size="8.9" text-anchor="start"  style="">2</text>
<text x="98.9" y="211.45" font-size="12.3" text-anchor="start"  style="font-style:italic">J</text>
<text x="105.6" y="213.35" font-size="8.9" text-anchor="start"  style="">0</text>
<path d="M115.3 207.15H124.8M115.3 209.55H124.8" stroke="#363131" stroke-width="0.85"/>
<text x="129.5" y="211.45" font-size="12.3" text-anchor="start"  style="">1</text>
<text x="136.0" y="211.45" font-size="12.3" text-anchor="start"  style="">,</text>
<text x="143.6" y="211.45" font-size="12.3" text-anchor="start"  style="font-style:italic">α</text>
<path d="M155.3 207.15H164.5M155.3 209.55H164.5" stroke="#363131" stroke-width="0.85"/>
<text x="168.6" y="211.45" font-size="12.3" text-anchor="start"  style="">10</text>
<path d="M182.3 203.85H188.3" stroke="#363131" stroke-width="0.8"/>
<text x="189.8" y="206.05" font-size="8.9" text-anchor="start"  style="">2</text>
<text x="98.9" y="225.65" font-size="12.3" text-anchor="start"  style="font-style:italic">J</text>
<text x="105.6" y="227.55" font-size="8.9" text-anchor="start"  style="">0</text>
<path d="M115.3 221.35H124.8M115.3 223.75H124.8" stroke="#363131" stroke-width="0.85"/>
<text x="129.5" y="225.65" font-size="12.3" text-anchor="start"  style="">1</text>
<text x="136.0" y="225.65" font-size="12.3" text-anchor="start"  style="">,</text>
<text x="143.6" y="225.65" font-size="12.3" text-anchor="start"  style="font-style:italic">α</text>
<path d="M155.3 221.35H164.5M155.3 223.75H164.5" stroke="#363131" stroke-width="0.85"/>
<text x="168.6" y="225.65" font-size="12.3" text-anchor="start"  style="">10</text>
<path d="M182.3 218.05H188.3" stroke="#363131" stroke-width="0.8"/>
<text x="189.8" y="220.25" font-size="8.9" text-anchor="start"  style="">3</text>
<text x="98.9" y="240.75" font-size="12.3" text-anchor="start"  style="font-style:italic">J</text>
<text x="105.6" y="242.65" font-size="8.9" text-anchor="start"  style="">0</text>
<path d="M115.3 236.45H124.8M115.3 238.85H124.8" stroke="#363131" stroke-width="0.85"/>
<text x="129.5" y="240.75" font-size="12.3" text-anchor="start"  style="">1</text>
<text x="136.0" y="240.75" font-size="12.3" text-anchor="start"  style="">,</text>
<text x="143.6" y="240.75" font-size="12.3" text-anchor="start"  style="font-style:italic">α</text>
<path d="M155.3 236.45H164.5M155.3 238.85H164.5" stroke="#363131" stroke-width="0.85"/>
<text x="168.6" y="240.75" font-size="12.3" text-anchor="start"  style="">10</text>
<path d="M182.3 233.15H188.3" stroke="#363131" stroke-width="0.8"/>
<text x="189.8" y="235.35" font-size="8.9" text-anchor="start"  style="">4</text>
<text x="98.9" y="255.05" font-size="12.3" text-anchor="start"  style="font-style:italic">J</text>
<text x="105.6" y="256.95" font-size="8.9" text-anchor="start"  style="">0</text>
<path d="M115.3 250.75H124.8M115.3 253.15H124.8" stroke="#363131" stroke-width="0.85"/>
<text x="129.5" y="255.05" font-size="12.3" text-anchor="start"  style="">1</text>
<text x="136.0" y="255.05" font-size="12.3" text-anchor="start"  style="">,</text>
<text x="143.6" y="255.05" font-size="12.3" text-anchor="start"  style="font-style:italic">α</text>
<path d="M155.3 250.75H164.5M155.3 253.15H164.5" stroke="#363131" stroke-width="0.85"/>
<text x="168.6" y="255.05" font-size="12.3" text-anchor="start"  style="">10</text>
<path d="M182.3 247.45H188.3" stroke="#363131" stroke-width="0.8"/>
<text x="189.8" y="249.65" font-size="8.9" text-anchor="start"  style="">5</text>
<text x="195.9" y="269.95000000000005" font-size="12.3" text-anchor="end"  style="letter-spacing:0.5px">Minkowski</text>
</svg>
</body></html>
